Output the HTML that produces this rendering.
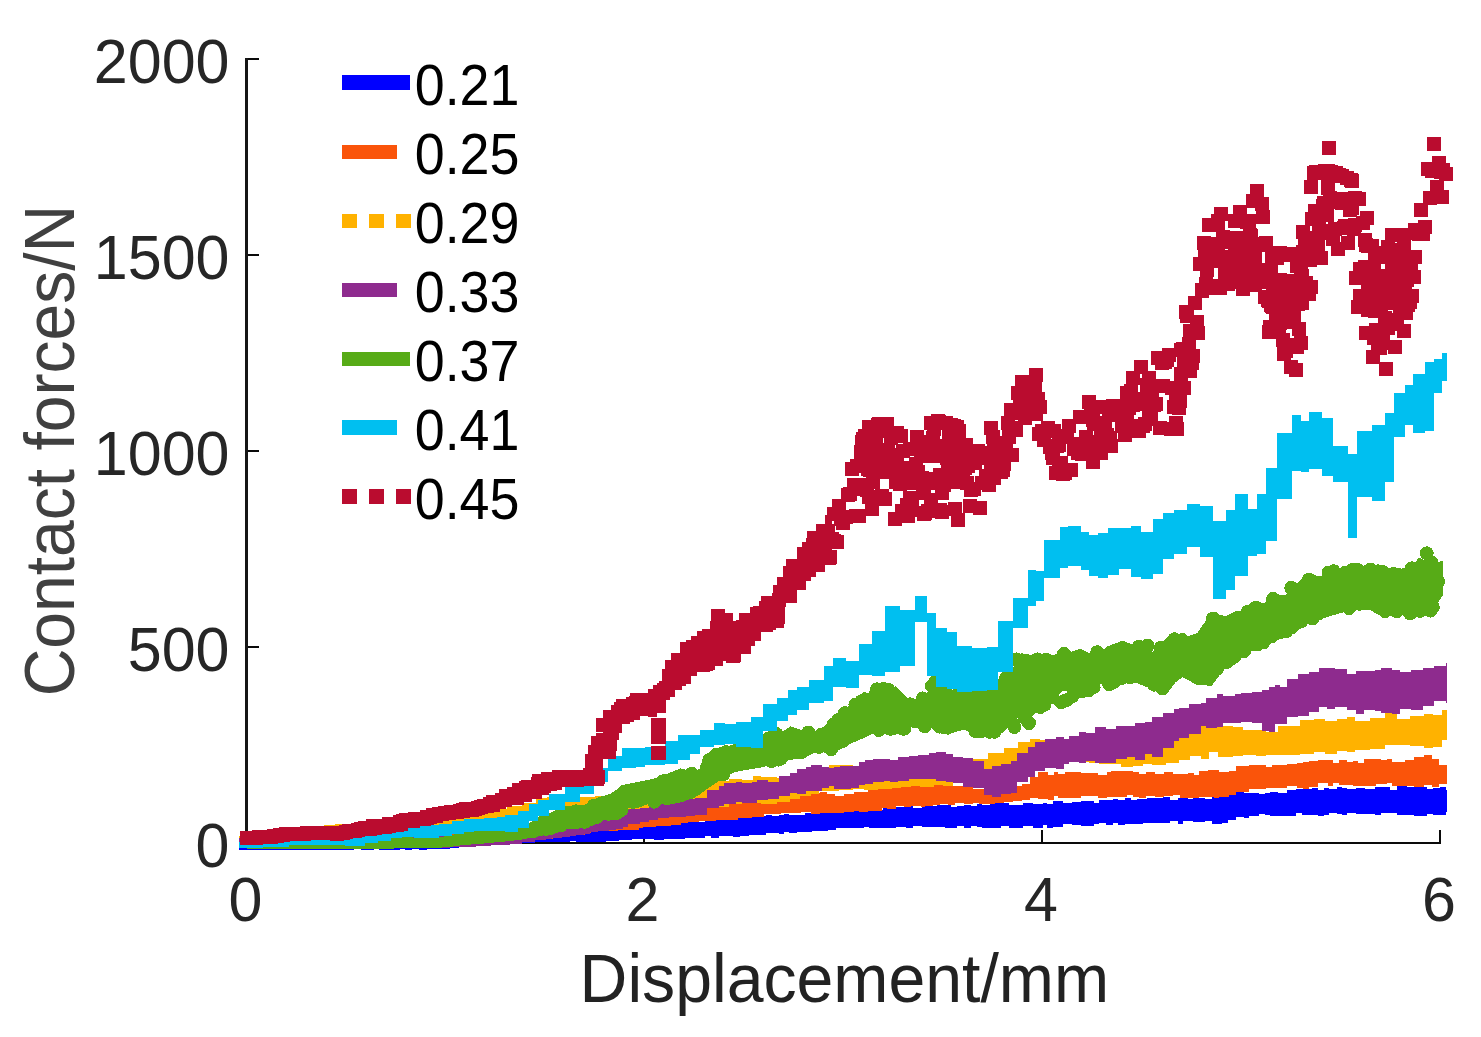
<!DOCTYPE html>
<html><head><meta charset="utf-8"><style>
html,body{margin:0;padding:0;background:#fff;width:1481px;height:1037px;overflow:hidden}
svg{display:block;font-family:"Liberation Sans",sans-serif}
</style></head><body>
<svg width="1481" height="1037" viewBox="0 0 1481 1037" shape-rendering="crispEdges">
<rect width="1481" height="1037" fill="#fff"/>
<rect x="245" y="58" width="3" height="786" fill="#161616"/>
<rect x="245" y="842" width="1196" height="2" fill="#0a0a0a"/>
<rect x="248" y="58" width="11" height="2" fill="#0a0a0a"/>
<rect x="248" y="254" width="11" height="2" fill="#0a0a0a"/>
<rect x="248" y="450" width="11" height="2" fill="#0a0a0a"/>
<rect x="248" y="646" width="11" height="2" fill="#0a0a0a"/>
<rect x="643" y="830" width="2" height="12" fill="#0a0a0a"/>
<rect x="1041" y="830" width="2" height="12" fill="#0a0a0a"/>
<rect x="1439" y="830" width="2" height="12" fill="#0a0a0a"/>
<polygon fill="#0000ff" points="239.0,838.3 243.8,838.3 243.8,838.1 249.3,838.1 249.3,838.1 257.2,838.1 257.2,838.1 261.4,838.1 261.4,837.6 270.0,837.6 270.0,837.5 278.3,837.5 278.3,837.3 287.7,837.3 287.7,837.6 295.0,837.6 295.0,837.1 300.3,837.1 300.3,837.0 305.6,837.0 305.6,836.8 311.0,836.8 311.0,836.7 317.8,836.7 317.8,836.7 326.8,836.7 326.8,837.1 331.9,837.1 331.9,836.4 336.6,836.4 336.6,836.8 344.9,836.8 344.9,836.4 353.9,836.4 353.9,836.5 361.4,836.5 361.4,836.1 368.4,836.1 368.4,836.3 373.9,836.3 373.9,836.0 378.9,836.0 378.9,835.8 387.0,835.8 387.0,836.1 394.0,836.1 394.0,835.7 400.4,835.7 400.4,835.8 404.6,835.8 404.6,835.5 412.2,835.5 412.2,836.1 419.2,836.1 419.2,835.8 426.5,835.8 426.5,835.9 433.5,835.9 433.5,835.1 440.3,835.1 440.3,834.9 450.0,834.9 450.0,835.2 459.0,835.2 459.0,834.6 467.8,834.6 467.8,834.2 474.4,834.2 474.4,834.1 481.8,834.1 481.8,834.0 488.7,834.0 488.7,834.1 495.9,834.1 495.9,834.0 502.7,834.0 502.7,833.7 507.7,833.7 507.7,833.3 516.5,833.3 516.5,832.9 522.1,832.9 522.1,832.6 526.6,832.6 526.6,832.2 535.1,832.2 535.1,831.6 542.8,831.6 542.8,830.9 547.8,830.9 547.8,830.4 553.4,830.4 553.4,829.6 559.4,829.6 559.4,828.9 565.7,828.9 565.7,828.7 570.3,828.7 570.3,828.0 575.6,828.0 575.6,827.3 579.7,827.3 579.7,826.9 588.0,826.9 588.0,826.6 596.1,826.6 596.1,826.6 606.0,826.6 606.0,826.1 611.3,826.1 611.3,825.5 618.8,825.5 618.8,825.3 623.1,825.3 623.1,825.1 632.4,825.1 632.4,825.4 638.2,825.4 638.2,823.9 644.7,823.9 644.7,823.2 654.0,823.2 654.0,822.9 663.8,822.9 663.8,823.4 673.0,823.4 673.0,821.9 680.0,821.9 680.0,822.2 685.3,822.2 685.3,821.4 690.4,821.4 690.4,821.5 696.2,821.5 696.2,822.0 705.4,822.0 705.4,820.1 710.6,820.1 710.6,819.1 719.3,819.1 719.3,819.1 727.4,819.1 727.4,818.4 733.4,818.4 733.4,818.1 740.3,818.1 740.3,815.7 748.7,815.7 748.7,815.4 758.2,815.4 758.2,816.4 765.8,816.4 765.8,814.8 771.8,814.8 771.8,816.2 779.4,816.2 779.4,814.7 784.2,814.7 784.2,814.0 788.5,814.0 788.5,815.0 797.2,815.0 797.2,814.5 804.9,814.5 804.9,813.1 812.3,813.1 812.3,814.1 817.9,814.1 817.9,812.8 827.5,812.8 827.5,813.2 836.2,813.2 836.2,812.0 844.2,812.0 844.2,811.2 853.5,811.2 853.5,810.6 863.5,810.6 863.5,809.8 868.5,809.8 868.5,810.7 873.1,810.7 873.1,810.2 882.9,810.2 882.9,808.4 888.4,808.4 888.4,807.3 896.3,807.3 896.3,806.7 906.2,806.7 906.2,806.2 912.9,806.2 912.9,808.0 922.4,808.0 922.4,805.6 927.1,805.6 927.1,806.0 937.0,806.0 937.0,805.2 944.9,805.2 944.9,805.0 950.8,805.0 950.8,807.2 956.5,807.2 956.5,805.6 964.4,805.6 964.4,804.5 970.7,804.5 970.7,806.0 976.6,806.0 976.6,804.2 982.4,804.2 982.4,804.7 989.9,804.7 989.9,803.7 994.0,803.7 994.0,803.3 1001.3,803.3 1001.3,803.3 1009.1,803.3 1009.1,805.1 1016.1,805.1 1016.1,804.6 1023.1,804.6 1023.1,802.5 1032.8,802.5 1032.8,804.2 1042.7,804.2 1042.7,802.6 1047.4,802.6 1047.4,804.1 1053.1,804.1 1053.1,801.2 1062.6,801.2 1062.6,802.9 1072.0,802.9 1072.0,802.2 1081.0,802.2 1081.0,800.7 1086.1,800.7 1086.1,801.3 1094.4,801.3 1094.4,802.5 1098.8,802.5 1098.8,800.3 1106.1,800.3 1106.1,799.5 1112.8,799.5 1112.8,798.8 1118.4,798.8 1118.4,799.5 1124.9,799.5 1124.9,798.3 1131.0,798.3 1131.0,800.2 1136.5,800.2 1136.5,799.1 1142.9,799.1 1142.9,798.6 1147.0,798.6 1147.0,798.2 1154.9,798.2 1154.9,797.6 1163.3,797.6 1163.3,797.4 1170.1,797.4 1170.1,799.9 1177.5,799.9 1177.5,798.4 1183.2,798.4 1183.2,797.8 1187.6,797.8 1187.6,798.8 1192.5,798.8 1192.5,798.3 1198.4,798.3 1198.4,798.2 1204.6,798.2 1204.6,798.9 1212.2,798.9 1212.2,797.3 1222.0,797.3 1222.0,796.2 1227.5,796.2 1227.5,794.2 1236.0,794.2 1236.0,792.4 1244.3,792.4 1244.3,793.4 1249.3,793.4 1249.3,793.4 1259.2,793.4 1259.2,793.6 1264.8,793.6 1264.8,792.6 1269.6,792.6 1269.6,791.9 1277.6,791.9 1277.6,793.0 1287.1,793.0 1287.1,790.0 1296.0,790.0 1296.0,789.0 1301.9,789.0 1301.9,788.6 1311.7,788.6 1311.7,788.2 1318.1,788.2 1318.1,789.9 1323.6,789.9 1323.6,788.3 1328.8,788.3 1328.8,788.6 1336.5,788.6 1336.5,787.3 1341.8,787.3 1341.8,788.2 1347.4,788.2 1347.4,789.2 1355.5,789.2 1355.5,787.9 1365.3,787.9 1365.3,788.9 1374.5,788.9 1374.5,786.9 1380.8,786.9 1380.8,786.6 1389.6,786.6 1389.6,790.0 1396.9,790.0 1396.9,786.4 1406.7,786.4 1406.7,786.7 1414.2,786.7 1414.2,787.3 1420.3,787.3 1420.3,787.0 1427.0,787.0 1427.0,788.5 1433.4,788.5 1433.4,787.7 1440.3,787.7 1440.3,786.8 1445.5,786.8 1445.5,790.3 1447.0,790.3 1447.0,812.0 1445.5,812.0 1445.5,814.9 1440.3,814.9 1440.3,815.4 1433.4,815.4 1433.4,814.1 1427.0,814.1 1427.0,815.5 1420.3,815.5 1420.3,815.8 1414.2,815.8 1414.2,814.7 1406.7,814.7 1406.7,814.7 1396.9,814.7 1396.9,813.3 1389.6,813.3 1389.6,813.3 1380.8,813.3 1380.8,815.3 1374.5,815.3 1374.5,814.1 1365.3,814.1 1365.3,814.3 1355.5,814.3 1355.5,812.7 1347.4,812.7 1347.4,814.8 1341.8,814.8 1341.8,814.0 1336.5,814.0 1336.5,812.7 1328.8,812.7 1328.8,815.4 1323.6,815.4 1323.6,815.5 1318.1,815.5 1318.1,815.4 1311.7,815.4 1311.7,814.7 1301.9,814.7 1301.9,813.4 1296.0,813.4 1296.0,816.3 1287.1,816.3 1287.1,816.2 1277.6,816.2 1277.6,816.3 1269.6,816.3 1269.6,814.8 1264.8,814.8 1264.8,814.3 1259.2,814.3 1259.2,816.3 1249.3,816.3 1249.3,817.8 1244.3,817.8 1244.3,817.1 1236.0,817.1 1236.0,819.7 1227.5,819.7 1227.5,822.8 1222.0,822.8 1222.0,823.9 1212.2,823.9 1212.2,821.2 1204.6,821.2 1204.6,822.1 1198.4,822.1 1198.4,821.5 1192.5,821.5 1192.5,821.3 1187.6,821.3 1187.6,821.4 1183.2,821.4 1183.2,824.0 1177.5,824.0 1177.5,821.2 1170.1,821.2 1170.1,823.4 1163.3,823.4 1163.3,823.2 1154.9,823.2 1154.9,822.5 1147.0,822.5 1147.0,823.2 1142.9,823.2 1142.9,823.8 1136.5,823.8 1136.5,823.5 1131.0,823.5 1131.0,824.2 1124.9,824.2 1124.9,824.5 1118.4,824.5 1118.4,823.4 1112.8,823.4 1112.8,824.6 1106.1,824.6 1106.1,823.0 1098.8,823.0 1098.8,823.5 1094.4,823.5 1094.4,825.6 1086.1,825.6 1086.1,826.0 1081.0,826.0 1081.0,824.9 1072.0,824.9 1072.0,824.2 1062.6,824.2 1062.6,826.9 1053.1,826.9 1053.1,827.5 1047.4,827.5 1047.4,825.1 1042.7,825.1 1042.7,827.7 1032.8,827.7 1032.8,826.1 1023.1,826.1 1023.1,828.0 1016.1,828.0 1016.1,827.9 1009.1,827.9 1009.1,826.1 1001.3,826.1 1001.3,828.0 994.0,828.0 994.0,828.0 989.9,828.0 989.9,827.8 982.4,827.8 982.4,827.2 976.6,827.2 976.6,825.8 970.7,825.8 970.7,827.7 964.4,827.7 964.4,825.6 956.5,825.6 956.5,827.5 950.8,827.5 950.8,828.0 944.9,828.0 944.9,827.2 937.0,827.2 937.0,826.8 927.1,826.8 927.1,827.0 922.4,827.0 922.4,825.7 912.9,825.7 912.9,828.0 906.2,828.0 906.2,827.2 896.3,827.2 896.3,828.0 888.4,828.0 888.4,828.0 882.9,828.0 882.9,827.8 873.1,827.8 873.1,827.7 868.5,827.7 868.5,827.1 863.5,827.1 863.5,828.0 853.5,828.0 853.5,827.9 844.2,827.9 844.2,828.0 836.2,828.0 836.2,830.1 827.5,830.1 827.5,830.7 817.9,830.7 817.9,830.9 812.3,830.9 812.3,832.0 804.9,832.0 804.9,832.4 797.2,832.4 797.2,833.1 788.5,833.1 788.5,832.4 784.2,832.4 784.2,834.2 779.4,834.2 779.4,833.0 771.8,833.0 771.8,833.4 765.8,833.4 765.8,835.1 758.2,835.1 758.2,834.7 748.7,834.7 748.7,836.4 740.3,836.4 740.3,836.8 733.4,836.8 733.4,836.2 727.4,836.2 727.4,835.7 719.3,835.7 719.3,837.5 710.6,837.5 710.6,836.2 705.4,836.2 705.4,838.0 696.2,838.0 696.2,838.2 690.4,838.2 690.4,838.0 685.3,838.0 685.3,838.7 680.0,838.7 680.0,839.1 673.0,839.1 673.0,839.0 663.8,839.0 663.8,839.7 654.0,839.7 654.0,838.6 644.7,838.6 644.7,839.1 638.2,839.1 638.2,839.3 632.4,839.3 632.4,840.2 623.1,840.2 623.1,840.1 618.8,840.1 618.8,840.9 611.3,840.9 611.3,841.4 606.0,841.4 606.0,841.5 596.1,841.5 596.1,841.9 588.0,841.9 588.0,841.5 579.7,841.5 579.7,842.0 575.6,842.0 575.6,841.4 570.3,841.4 570.3,841.8 565.7,841.8 565.7,842.1 559.4,842.1 559.4,842.2 553.4,842.2 553.4,842.2 547.8,842.2 547.8,842.3 542.8,842.3 542.8,842.4 535.1,842.4 535.1,842.7 526.6,842.7 526.6,843.0 522.1,843.0 522.1,843.1 516.5,843.1 516.5,843.5 507.7,843.5 507.7,843.8 502.7,843.8 502.7,844.1 495.9,844.1 495.9,844.7 488.7,844.7 488.7,845.4 481.8,845.4 481.8,846.1 474.4,846.1 474.4,846.4 467.8,846.4 467.8,847.3 459.0,847.3 459.0,847.8 450.0,847.8 450.0,848.5 440.3,848.5 440.3,849.2 433.5,849.2 433.5,849.3 426.5,849.3 426.5,849.5 419.2,849.5 419.2,849.1 412.2,849.1 412.2,849.7 404.6,849.7 404.6,848.9 400.4,848.9 400.4,849.7 394.0,849.7 394.0,849.5 387.0,849.5 387.0,849.7 378.9,849.7 378.9,849.4 373.9,849.4 373.9,849.7 368.4,849.7 368.4,849.9 361.4,849.9 361.4,849.4 353.9,849.4 353.9,849.9 344.9,849.9 344.9,849.9 336.6,849.9 336.6,849.6 331.9,849.6 331.9,849.5 326.8,849.5 326.8,849.7 317.8,849.7 317.8,850.0 311.0,850.0 311.0,850.0 305.6,850.0 305.6,849.8 300.3,849.8 300.3,850.0 295.0,850.0 295.0,849.9 287.7,849.9 287.7,850.0 278.3,850.0 278.3,849.5 270.0,849.5 270.0,849.9 261.4,849.9 261.4,849.9 257.2,849.9 257.2,850.0 249.3,850.0 249.3,849.9 243.8,849.9 243.8,849.8 239.0,849.8"/>
<polygon fill="#fa540a" points="239.0,836.2 248.7,836.2 248.7,836.1 253.2,836.1 253.2,835.9 261.3,835.9 261.3,835.8 268.9,835.8 268.9,835.6 275.5,835.6 275.5,835.8 285.5,835.8 285.5,835.4 292.1,835.4 292.1,835.3 296.3,835.3 296.3,835.5 302.6,835.5 302.6,835.1 309.9,835.1 309.9,835.0 315.9,835.0 315.9,835.0 325.9,835.0 325.9,835.0 335.2,835.0 335.2,834.8 344.7,834.8 344.7,834.9 350.8,834.9 350.8,834.6 355.8,834.6 355.8,834.4 362.5,834.4 362.5,834.3 372.1,834.3 372.1,834.5 378.2,834.5 378.2,834.1 385.0,834.1 385.0,833.9 393.3,833.9 393.3,834.0 399.3,834.0 399.3,833.6 408.7,833.6 408.7,834.1 414.6,834.1 414.6,833.5 421.6,833.5 421.6,833.3 429.1,833.3 429.1,833.8 436.2,833.8 436.2,833.5 440.6,833.5 440.6,832.7 450.1,832.7 450.1,832.6 454.4,832.6 454.4,832.5 459.8,832.5 459.8,832.1 466.9,832.1 466.9,831.8 472.2,831.8 472.2,830.9 480.5,830.9 480.5,830.8 485.5,830.8 485.5,830.1 495.3,830.1 495.3,829.7 499.4,829.7 499.4,829.4 504.3,829.4 504.3,829.1 510.6,829.1 510.6,828.7 515.6,828.7 515.6,828.7 523.2,828.7 523.2,828.0 529.3,828.0 529.3,827.8 537.9,827.8 537.9,827.4 546.4,827.4 546.4,826.6 553.2,826.6 553.2,826.2 559.1,826.2 559.1,825.5 568.4,825.5 568.4,824.6 574.7,824.6 574.7,823.6 584.5,823.6 584.5,822.5 591.0,822.5 591.0,821.8 595.9,821.8 595.9,821.2 600.8,821.2 600.8,820.9 607.9,820.9 607.9,820.6 617.8,820.6 617.8,820.4 623.3,820.4 623.3,820.2 632.2,820.2 632.2,820.0 638.7,820.0 638.7,819.5 642.9,819.5 642.9,818.8 651.2,818.8 651.2,817.9 656.3,817.9 656.3,817.2 663.5,817.2 663.5,816.3 671.3,816.3 671.3,814.0 681.1,814.0 681.1,811.3 688.2,811.3 688.2,809.7 694.7,809.7 694.7,809.2 699.2,809.2 699.2,808.6 706.3,808.6 706.3,807.9 712.1,807.9 712.1,806.7 716.2,806.7 716.2,806.4 722.0,806.4 722.0,805.0 726.1,805.0 726.1,804.0 733.0,804.0 733.0,803.2 737.5,803.2 737.5,802.0 747.1,802.0 747.1,801.4 752.2,801.4 752.2,800.9 759.0,800.9 759.0,798.9 763.8,798.9 763.8,798.6 772.9,798.6 772.9,796.3 781.0,796.3 781.0,796.2 789.7,796.2 789.7,794.9 795.8,794.9 795.8,794.6 801.4,794.6 801.4,795.0 811.2,795.0 811.2,792.7 820.2,792.7 820.2,792.0 827.1,792.0 827.1,793.9 835.2,793.9 835.2,795.8 844.1,795.8 844.1,794.0 854.1,794.0 854.1,792.4 858.5,792.4 858.5,792.0 868.4,792.0 868.4,789.1 874.2,789.1 874.2,788.1 882.3,788.1 882.3,787.4 887.0,787.4 887.0,785.4 895.5,785.4 895.5,784.3 903.8,784.3 903.8,784.8 910.5,784.8 910.5,785.0 920.5,785.0 920.5,783.3 925.4,783.3 925.4,785.2 933.0,785.2 933.0,783.1 940.0,783.1 940.0,785.0 948.3,785.0 948.3,785.6 955.1,785.6 955.1,785.6 963.6,785.6 963.6,786.6 972.7,786.6 972.7,788.7 979.1,788.7 979.1,788.6 986.9,788.6 986.9,790.1 995.2,790.1 995.2,789.8 1004.1,789.8 1004.1,788.8 1012.5,788.8 1012.5,786.1 1021.8,786.1 1021.8,783.8 1030.4,783.8 1030.4,777.1 1037.9,777.1 1037.9,771.9 1042.7,771.9 1042.7,771.9 1048.2,771.9 1048.2,775.1 1053.5,775.1 1053.5,772.1 1057.5,772.1 1057.5,773.9 1065.4,773.9 1065.4,772.4 1073.5,772.4 1073.5,772.4 1080.5,772.4 1080.5,773.0 1089.0,773.0 1089.0,773.2 1097.7,773.2 1097.7,775.0 1106.5,775.0 1106.5,772.1 1111.4,772.1 1111.4,771.2 1117.2,771.2 1117.2,771.3 1127.0,771.3 1127.0,771.1 1133.3,771.1 1133.3,772.1 1139.2,772.1 1139.2,774.3 1146.4,774.3 1146.4,771.6 1155.3,771.6 1155.3,773.5 1164.1,773.5 1164.1,772.4 1173.2,772.4 1173.2,773.9 1179.5,773.9 1179.5,774.0 1188.3,774.0 1188.3,772.6 1193.7,772.6 1193.7,775.0 1199.3,775.0 1199.3,770.9 1208.3,770.9 1208.3,769.5 1214.2,769.5 1214.2,769.8 1219.2,769.8 1219.2,772.3 1228.5,772.3 1228.5,770.9 1236.4,770.9 1236.4,766.4 1241.0,766.4 1241.0,766.1 1249.0,766.1 1249.0,765.0 1257.8,765.0 1257.8,764.7 1265.6,764.7 1265.6,767.0 1271.7,767.0 1271.7,765.1 1278.7,765.1 1278.7,765.0 1287.1,765.0 1287.1,764.4 1296.7,764.4 1296.7,763.1 1302.5,763.1 1302.5,761.7 1308.7,761.7 1308.7,761.1 1318.4,761.1 1318.4,760.1 1327.8,760.1 1327.8,759.5 1332.6,759.5 1332.6,762.7 1338.7,762.7 1338.7,759.8 1347.3,759.8 1347.3,762.0 1352.7,762.0 1352.7,760.7 1358.4,760.7 1358.4,762.6 1364.3,762.6 1364.3,759.2 1369.2,759.2 1369.2,759.3 1375.7,759.3 1375.7,759.2 1381.2,759.2 1381.2,759.6 1387.2,759.6 1387.2,759.1 1391.6,759.1 1391.6,761.6 1398.1,761.6 1398.1,762.0 1405.3,762.0 1405.3,759.7 1413.9,759.7 1413.9,757.0 1423.9,757.0 1423.9,755.0 1431.6,755.0 1431.6,758.7 1439.2,758.7 1439.2,764.8 1447.0,764.8 1447.0,783.9 1439.2,783.9 1439.2,786.5 1431.6,786.5 1431.6,784.5 1423.9,784.5 1423.9,786.5 1413.9,786.5 1413.9,785.9 1405.3,785.9 1405.3,785.5 1398.1,785.5 1398.1,785.9 1391.6,785.9 1391.6,782.9 1387.2,782.9 1387.2,783.5 1381.2,783.5 1381.2,784.4 1375.7,784.4 1375.7,785.5 1369.2,785.5 1369.2,785.7 1364.3,785.7 1364.3,786.0 1358.4,786.0 1358.4,785.9 1352.7,785.9 1352.7,785.4 1347.3,785.4 1347.3,784.7 1338.7,784.7 1338.7,782.9 1332.6,782.9 1332.6,786.2 1327.8,786.2 1327.8,783.3 1318.4,783.3 1318.4,787.2 1308.7,787.2 1308.7,788.9 1302.5,788.9 1302.5,787.5 1296.7,787.5 1296.7,785.8 1287.1,785.8 1287.1,787.6 1278.7,787.6 1278.7,787.5 1271.7,787.5 1271.7,788.0 1265.6,788.0 1265.6,789.0 1257.8,789.0 1257.8,789.2 1249.0,789.2 1249.0,791.5 1241.0,791.5 1241.0,792.4 1236.4,792.4 1236.4,794.5 1228.5,794.5 1228.5,797.0 1219.2,797.0 1219.2,797.6 1214.2,797.6 1214.2,797.0 1208.3,797.0 1208.3,797.4 1199.3,797.4 1199.3,797.9 1193.7,797.9 1193.7,797.8 1188.3,797.8 1188.3,797.6 1179.5,797.6 1179.5,795.3 1173.2,795.3 1173.2,796.4 1164.1,796.4 1164.1,797.4 1155.3,797.4 1155.3,796.2 1146.4,796.2 1146.4,798.0 1139.2,798.0 1139.2,797.0 1133.3,797.0 1133.3,794.6 1127.0,794.6 1127.0,796.7 1117.2,796.7 1117.2,796.7 1111.4,796.7 1111.4,797.1 1106.5,797.1 1106.5,797.9 1097.7,797.9 1097.7,796.2 1089.0,796.2 1089.0,795.9 1080.5,795.9 1080.5,798.4 1073.5,798.4 1073.5,798.4 1065.4,798.4 1065.4,798.0 1057.5,798.0 1057.5,796.1 1053.5,796.1 1053.5,799.5 1048.2,799.5 1048.2,798.7 1042.7,798.7 1042.7,799.0 1037.9,799.0 1037.9,798.3 1030.4,798.3 1030.4,800.3 1021.8,800.3 1021.8,801.3 1012.5,801.3 1012.5,802.3 1004.1,802.3 1004.1,803.1 995.2,803.1 995.2,803.5 986.9,803.5 986.9,803.7 979.1,803.7 979.1,802.6 972.7,802.6 972.7,803.5 963.6,803.5 963.6,803.1 955.1,803.1 955.1,804.5 948.3,804.5 948.3,803.6 940.0,803.6 940.0,805.3 933.0,805.3 933.0,806.3 925.4,806.3 925.4,806.8 920.5,806.8 920.5,806.2 910.5,806.2 910.5,807.4 903.8,807.4 903.8,806.1 895.5,806.1 895.5,809.3 887.0,809.3 887.0,807.9 882.3,807.9 882.3,811.0 874.2,811.0 874.2,810.7 868.4,810.7 868.4,812.4 858.5,812.4 858.5,810.5 854.1,810.5 854.1,812.4 844.1,812.4 844.1,812.8 835.2,812.8 835.2,812.9 827.1,812.9 827.1,813.4 820.2,813.4 820.2,813.8 811.2,813.8 811.2,811.7 801.4,811.7 801.4,813.4 795.8,813.4 795.8,812.5 789.7,812.5 789.7,813.4 781.0,813.4 781.0,814.0 772.9,814.0 772.9,814.1 763.8,814.1 763.8,816.9 759.0,816.9 759.0,817.3 752.2,817.3 752.2,818.0 747.1,818.0 747.1,818.2 737.5,818.2 737.5,819.8 733.0,819.8 733.0,819.7 726.1,819.7 726.1,820.3 722.0,820.3 722.0,820.1 716.2,820.1 716.2,820.9 712.1,820.9 712.1,821.0 706.3,821.0 706.3,821.1 699.2,821.1 699.2,821.5 694.7,821.5 694.7,821.8 688.2,821.8 688.2,822.7 681.1,822.7 681.1,824.6 671.3,824.6 671.3,826.1 663.5,826.1 663.5,826.4 656.3,826.4 656.3,826.6 651.2,826.6 651.2,826.9 642.9,826.9 642.9,828.4 638.7,828.4 638.7,830.0 632.2,830.0 632.2,830.2 623.3,830.2 623.3,830.4 617.8,830.4 617.8,830.6 607.9,830.6 607.9,830.9 600.8,830.9 600.8,831.3 595.9,831.3 595.9,832.1 591.0,832.1 591.0,833.1 584.5,833.1 584.5,834.5 574.7,834.5 574.7,836.0 568.4,836.0 568.4,837.2 559.1,837.2 559.1,838.2 553.2,838.2 553.2,838.5 546.4,838.5 546.4,838.9 537.9,838.9 537.9,839.3 529.3,839.3 529.3,840.1 523.2,840.1 523.2,840.7 515.6,840.7 515.6,841.1 510.6,841.1 510.6,840.9 504.3,840.9 504.3,841.6 499.4,841.6 499.4,841.8 495.3,841.8 495.3,842.3 485.5,842.3 485.5,843.1 480.5,843.1 480.5,843.5 472.2,843.5 472.2,843.9 466.9,843.9 466.9,844.4 459.8,844.4 459.8,844.9 454.4,844.9 454.4,845.1 450.1,845.1 450.1,845.2 440.6,845.2 440.6,845.6 436.2,845.6 436.2,845.8 429.1,845.8 429.1,846.0 421.6,846.0 421.6,845.8 414.6,845.8 414.6,845.8 408.7,845.8 408.7,845.6 399.3,845.6 399.3,846.2 393.3,846.2 393.3,846.2 385.0,846.2 385.0,845.8 378.2,845.8 378.2,845.9 372.1,845.9 372.1,846.0 362.5,846.0 362.5,846.3 355.8,846.3 355.8,846.2 350.8,846.2 350.8,846.0 344.7,846.0 344.7,846.2 335.2,846.2 335.2,846.3 325.9,846.3 325.9,846.6 315.9,846.6 315.9,846.5 309.9,846.5 309.9,846.7 302.6,846.7 302.6,846.6 296.3,846.6 296.3,846.7 292.1,846.7 292.1,846.8 285.5,846.8 285.5,846.7 275.5,846.7 275.5,846.7 268.9,846.7 268.9,846.9 261.3,846.9 261.3,846.8 253.2,846.8 253.2,846.8 248.7,846.8 248.7,847.0 239.0,847.0"/>
<polygon fill="#ffb200" points="239.0,836.1 248.9,836.1 248.9,834.9 261.7,834.9 261.7,833.7 269.8,833.7 269.8,832.8 279.7,832.8 279.7,830.7 294.4,830.7 294.4,829.3 303.6,829.3 303.6,828.1 315.8,828.1 315.8,826.8 324.3,826.8 324.3,825.0 334.7,825.0 334.7,824.4 346.5,824.4 346.5,824.0 360.2,824.0 360.2,822.4 374.6,822.4 374.6,821.4 389.7,821.4 389.7,821.5 399.4,821.5 399.4,820.1 412.4,820.1 412.4,819.4 423.5,819.4 423.5,819.1 436.2,819.1 436.2,817.9 451.6,817.9 451.6,815.6 465.0,815.6 465.0,813.9 480.7,813.9 480.7,811.7 494.4,811.7 494.4,808.8 507.0,808.8 507.0,806.3 521.8,806.3 521.8,802.6 536.2,802.6 536.2,797.9 546.6,797.9 546.6,796.7 554.9,796.7 554.9,797.1 568.7,797.1 568.7,797.1 584.5,797.1 584.5,796.8 595.0,796.8 595.0,796.3 603.2,796.3 603.2,795.8 616.1,795.8 616.1,795.4 631.1,795.4 631.1,793.5 646.2,793.5 646.2,792.5 658.4,792.5 658.4,790.3 670.9,790.3 670.9,786.6 682.9,786.6 682.9,783.5 692.8,783.5 692.8,781.9 705.0,781.9 705.0,781.1 716.3,781.1 716.3,780.7 729.3,780.7 729.3,778.9 742.3,778.9 742.3,779.8 753.1,779.8 753.1,776.2 761.3,776.2 761.3,776.8 777.0,776.8 777.0,777.6 789.7,777.6 789.7,778.3 800.2,778.3 800.2,776.5 810.6,776.5 810.6,773.8 818.8,773.8 818.8,769.2 829.3,769.2 829.3,765.3 839.2,765.3 839.2,764.5 852.8,764.5 852.8,769.9 863.5,769.9 863.5,770.1 878.3,770.1 878.3,772.8 891.5,772.8 891.5,771.5 901.3,771.5 901.3,773.1 910.9,773.1 910.9,771.7 920.3,771.7 920.3,772.2 933.5,772.2 933.5,770.7 942.5,770.7 942.5,770.3 952.7,770.3 952.7,766.6 964.0,766.6 964.0,761.6 973.3,761.6 973.3,758.8 988.3,758.8 988.3,752.7 1003.9,752.7 1003.9,747.8 1017.9,747.8 1017.9,742.1 1030.0,742.1 1030.0,739.4 1039.8,739.4 1039.8,739.9 1050.1,739.9 1050.1,740.6 1065.4,740.6 1065.4,743.6 1080.5,743.6 1080.5,744.5 1088.6,744.5 1088.6,745.5 1099.0,745.5 1099.0,748.0 1110.4,748.0 1110.4,746.4 1121.1,746.4 1121.1,748.9 1132.9,748.9 1132.9,748.7 1142.5,748.7 1142.5,747.6 1151.9,747.6 1151.9,744.1 1166.3,744.1 1166.3,740.1 1179.3,740.1 1179.3,732.7 1189.5,732.7 1189.5,729.9 1200.9,729.9 1200.9,726.0 1208.9,726.0 1208.9,726.0 1217.9,726.0 1217.9,726.1 1232.7,726.1 1232.7,727.4 1243.3,727.4 1243.3,729.8 1256.4,729.8 1256.4,729.5 1266.0,729.5 1266.0,732.4 1278.4,732.4 1278.4,726.4 1287.0,726.4 1287.0,726.4 1299.9,726.4 1299.9,720.4 1314.3,720.4 1314.3,719.1 1325.3,719.1 1325.3,721.2 1336.6,721.2 1336.6,719.0 1346.6,719.0 1346.6,717.0 1355.2,717.0 1355.2,721.2 1370.2,721.2 1370.2,718.1 1385.4,718.1 1385.4,713.1 1397.1,713.1 1397.1,719.4 1410.4,719.4 1410.4,716.4 1423.7,716.4 1423.7,714.1 1432.6,714.1 1432.6,715.4 1441.7,715.4 1441.7,710.3 1447.0,710.3 1447.0,740.2 1441.7,740.2 1441.7,746.9 1432.6,746.9 1432.6,747.8 1423.7,747.8 1423.7,746.2 1410.4,746.2 1410.4,744.9 1397.1,744.9 1397.1,744.6 1385.4,744.6 1385.4,749.4 1370.2,749.4 1370.2,750.4 1355.2,750.4 1355.2,752.1 1346.6,752.1 1346.6,751.2 1336.6,751.2 1336.6,754.2 1325.3,754.2 1325.3,751.7 1314.3,751.7 1314.3,754.4 1299.9,754.4 1299.9,755.0 1287.0,755.0 1287.0,755.2 1278.4,755.2 1278.4,755.3 1266.0,755.3 1266.0,755.9 1256.4,755.9 1256.4,755.3 1243.3,755.3 1243.3,755.7 1232.7,755.7 1232.7,757.2 1217.9,757.2 1217.9,752.4 1208.9,752.4 1208.9,758.9 1200.9,758.9 1200.9,756.0 1189.5,756.0 1189.5,759.7 1179.3,759.7 1179.3,762.7 1166.3,762.7 1166.3,764.7 1151.9,764.7 1151.9,763.9 1142.5,763.9 1142.5,765.8 1132.9,765.8 1132.9,766.7 1121.1,766.7 1121.1,764.0 1110.4,764.0 1110.4,764.2 1099.0,764.2 1099.0,763.1 1088.6,763.1 1088.6,762.3 1080.5,762.3 1080.5,759.5 1065.4,759.5 1065.4,755.7 1050.1,755.7 1050.1,756.5 1039.8,756.5 1039.8,757.9 1030.0,757.9 1030.0,761.5 1017.9,761.5 1017.9,764.4 1003.9,764.4 1003.9,770.0 988.3,770.0 988.3,774.7 973.3,774.7 973.3,777.4 964.0,777.4 964.0,781.3 952.7,781.3 952.7,785.8 942.5,785.8 942.5,785.4 933.5,785.4 933.5,786.9 920.3,786.9 920.3,786.4 910.9,786.4 910.9,786.8 901.3,786.8 901.3,788.0 891.5,788.0 891.5,788.7 878.3,788.7 878.3,789.6 863.5,789.6 863.5,789.3 852.8,789.3 852.8,789.5 839.2,789.5 839.2,790.5 829.3,790.5 829.3,791.1 818.8,791.1 818.8,794.1 810.6,794.1 810.6,796.4 800.2,796.4 800.2,799.4 789.7,799.4 789.7,801.9 777.0,801.9 777.0,803.5 761.3,803.5 761.3,803.4 753.1,803.4 753.1,803.2 742.3,803.2 742.3,804.2 729.3,804.2 729.3,807.2 716.3,807.2 716.3,807.6 705.0,807.6 705.0,808.1 692.8,808.1 692.8,804.6 682.9,804.6 682.9,808.0 670.9,808.0 670.9,808.2 658.4,808.2 658.4,811.4 646.2,811.4 646.2,813.1 631.1,813.1 631.1,812.1 616.1,812.1 616.1,812.3 603.2,812.3 603.2,810.3 595.0,810.3 595.0,808.6 584.5,808.6 584.5,808.2 568.7,808.2 568.7,809.2 554.9,809.2 554.9,808.8 546.6,808.8 546.6,808.8 536.2,808.8 536.2,812.9 521.8,812.9 521.8,817.6 507.0,817.6 507.0,819.8 494.4,819.8 494.4,821.7 480.7,821.7 480.7,824.2 465.0,824.2 465.0,826.6 451.6,826.6 451.6,828.8 436.2,828.8 436.2,830.5 423.5,830.5 423.5,831.5 412.4,831.5 412.4,832.4 399.4,832.4 399.4,833.4 389.7,833.4 389.7,834.5 374.6,834.5 374.6,834.7 360.2,834.7 360.2,836.6 346.5,836.6 346.5,836.8 334.7,836.8 334.7,837.9 324.3,837.9 324.3,839.3 315.8,839.3 315.8,840.3 303.6,840.3 303.6,841.1 294.4,841.1 294.4,842.7 279.7,842.7 279.7,844.0 269.8,844.0 269.8,845.0 261.7,845.0 261.7,846.1 248.9,846.1 248.9,847.0 239.0,847.0"/>
<polygon fill="#8e2b8e" points="239.0,838.0 245.7,838.0 245.7,838.0 251.7,838.0 251.7,837.9 263.2,837.9 263.2,837.8 269.7,837.8 269.7,837.7 275.9,837.7 275.9,837.7 287.4,837.7 287.4,837.5 298.0,837.5 298.0,837.5 307.4,837.5 307.4,837.3 318.6,837.3 318.6,837.2 328.3,837.2 328.3,837.1 336.6,837.1 336.6,837.1 347.6,837.1 347.6,837.0 359.0,837.0 359.0,836.8 369.9,836.8 369.9,836.7 379.1,836.7 379.1,836.8 386.3,836.8 386.3,836.6 391.6,836.6 391.6,836.5 400.3,836.5 400.3,836.4 412.3,836.4 412.3,836.4 418.7,836.4 418.7,836.4 426.2,836.4 426.2,836.4 435.1,836.4 435.1,836.0 440.6,836.0 440.6,836.0 449.9,836.0 449.9,836.1 456.1,836.1 456.1,836.2 466.0,836.2 466.0,836.1 476.1,836.1 476.1,836.0 483.2,836.0 483.2,836.0 491.0,836.0 491.0,836.0 501.8,836.0 501.8,835.8 509.9,835.8 509.9,834.8 521.6,834.8 521.6,833.9 526.9,833.9 526.9,833.3 534.5,833.3 534.5,832.3 546.3,832.3 546.3,830.6 551.7,830.6 551.7,828.9 561.5,828.9 561.5,826.8 569.9,826.8 569.9,825.3 575.8,825.3 575.8,824.1 583.6,824.1 583.6,822.6 590.3,822.6 590.3,821.1 598.3,821.1 598.3,818.7 609.1,818.7 609.1,816.1 615.9,816.1 615.9,815.0 622.5,815.0 622.5,812.2 627.9,812.2 627.9,808.6 639.8,808.6 639.8,807.7 649.4,807.7 649.4,805.8 657.8,805.8 657.8,804.2 669.0,804.2 669.0,801.5 676.3,801.5 676.3,800.4 685.8,800.4 685.8,798.9 695.4,798.9 695.4,797.7 706.8,797.7 706.8,790.0 718.6,790.0 718.6,786.0 724.0,786.0 724.0,783.4 735.7,783.4 735.7,781.8 741.9,781.8 741.9,782.6 752.1,782.6 752.1,782.3 757.2,782.3 757.2,780.4 768.3,780.4 768.3,782.2 778.8,782.2 778.8,775.7 789.9,775.7 789.9,772.6 797.2,772.6 797.2,768.7 805.5,768.7 805.5,766.9 810.8,766.9 810.8,765.4 821.8,765.4 821.8,766.8 829.4,766.8 829.4,767.5 834.4,767.5 834.4,767.3 840.0,767.3 840.0,765.7 850.5,765.7 850.5,765.6 859.0,765.6 859.0,761.8 864.8,761.8 864.8,759.6 873.3,759.6 873.3,758.6 883.8,758.6 883.8,758.5 890.2,758.5 890.2,759.8 898.1,759.8 898.1,756.7 909.2,756.7 909.2,755.5 917.7,755.5 917.7,755.2 929.0,755.2 929.0,753.4 936.2,753.4 936.2,752.0 946.2,752.0 946.2,753.6 952.9,753.6 952.9,757.2 963.3,757.2 963.3,757.6 973.0,757.6 973.0,761.1 984.4,761.1 984.4,768.7 991.6,768.7 991.6,766.3 1000.8,766.3 1000.8,764.1 1011.2,764.1 1011.2,760.7 1017.2,760.7 1017.2,753.1 1027.8,753.1 1027.8,746.5 1035.4,746.5 1035.4,742.0 1044.8,742.0 1044.8,739.4 1056.3,739.4 1056.3,737.2 1063.6,737.2 1063.6,739.1 1068.8,739.1 1068.8,735.7 1079.4,735.7 1079.4,731.8 1085.5,731.8 1085.5,733.0 1094.5,733.0 1094.5,727.2 1106.3,727.2 1106.3,729.1 1116.0,729.1 1116.0,725.5 1126.8,725.5 1126.8,726.1 1134.7,726.1 1134.7,722.5 1144.6,722.5 1144.6,721.7 1151.9,721.7 1151.9,717.4 1163.2,717.4 1163.2,712.5 1173.9,712.5 1173.9,709.2 1179.0,709.2 1179.0,707.7 1188.8,707.7 1188.8,703.6 1200.5,703.6 1200.5,702.8 1206.0,702.8 1206.0,697.7 1217.4,697.7 1217.4,693.8 1223.1,693.8 1223.1,696.1 1234.6,696.1 1234.6,693.9 1240.6,693.9 1240.6,692.8 1252.2,692.8 1252.2,692.0 1262.0,692.0 1262.0,690.4 1268.8,690.4 1268.8,687.3 1274.5,687.3 1274.5,684.5 1280.4,684.5 1280.4,686.6 1287.4,686.6 1287.4,679.0 1297.5,679.0 1297.5,673.7 1308.7,673.7 1308.7,671.8 1318.5,671.8 1318.5,668.2 1327.0,668.2 1327.0,668.0 1335.4,668.0 1335.4,668.7 1346.5,668.7 1346.5,673.9 1356.3,673.9 1356.3,671.2 1364.0,671.2 1364.0,670.9 1375.2,670.9 1375.2,669.7 1381.2,669.7 1381.2,668.1 1392.0,668.1 1392.0,669.6 1400.3,669.6 1400.3,671.6 1411.1,671.6 1411.1,670.2 1422.6,670.2 1422.6,668.3 1433.5,668.3 1433.5,665.8 1439.2,665.8 1439.2,665.8 1446.4,665.8 1446.4,663.0 1447.0,663.0 1447.0,702.5 1446.4,702.5 1446.4,700.5 1439.2,700.5 1439.2,701.4 1433.5,701.4 1433.5,706.1 1422.6,706.1 1422.6,709.5 1411.1,709.5 1411.1,708.8 1400.3,708.8 1400.3,713.7 1392.0,713.7 1392.0,712.8 1381.2,712.8 1381.2,710.8 1375.2,710.8 1375.2,710.0 1364.0,710.0 1364.0,713.7 1356.3,713.7 1356.3,710.4 1346.5,710.4 1346.5,707.0 1335.4,707.0 1335.4,708.9 1327.0,708.9 1327.0,706.9 1318.5,706.9 1318.5,712.4 1308.7,712.4 1308.7,716.0 1297.5,716.0 1297.5,716.7 1287.4,716.7 1287.4,724.1 1280.4,724.1 1280.4,723.7 1274.5,723.7 1274.5,731.9 1268.8,731.9 1268.8,730.5 1262.0,730.5 1262.0,723.1 1252.2,723.1 1252.2,722.2 1240.6,722.2 1240.6,723.1 1234.6,723.1 1234.6,722.5 1223.1,722.5 1223.1,726.8 1217.4,726.8 1217.4,728.4 1206.0,728.4 1206.0,726.4 1200.5,726.4 1200.5,733.8 1188.8,733.8 1188.8,737.5 1179.0,737.5 1179.0,740.8 1173.9,740.8 1173.9,747.7 1163.2,747.7 1163.2,756.7 1151.9,756.7 1151.9,753.7 1144.6,753.7 1144.6,760.1 1134.7,760.1 1134.7,757.1 1126.8,757.1 1126.8,758.5 1116.0,758.5 1116.0,763.3 1106.3,763.3 1106.3,762.9 1094.5,762.9 1094.5,761.4 1085.5,761.4 1085.5,763.4 1079.4,763.4 1079.4,761.8 1068.8,761.8 1068.8,764.4 1063.6,764.4 1063.6,768.5 1056.3,768.5 1056.3,768.4 1044.8,768.4 1044.8,771.3 1035.4,771.3 1035.4,776.8 1027.8,776.8 1027.8,782.2 1017.2,782.2 1017.2,793.4 1011.2,793.4 1011.2,793.9 1000.8,793.9 1000.8,797.4 991.6,797.4 991.6,794.6 984.4,794.6 984.4,787.9 973.0,787.9 973.0,786.8 963.3,786.8 963.3,782.9 952.9,782.9 952.9,781.8 946.2,781.8 946.2,781.2 936.2,781.2 936.2,779.4 929.0,779.4 929.0,779.3 917.7,779.3 917.7,779.0 909.2,779.0 909.2,780.9 898.1,780.9 898.1,781.9 890.2,781.9 890.2,781.2 883.8,781.2 883.8,782.3 873.3,782.3 873.3,784.0 864.8,784.0 864.8,784.9 859.0,784.9 859.0,788.3 850.5,788.3 850.5,789.3 840.0,789.3 840.0,788.5 834.4,788.5 834.4,785.7 829.4,785.7 829.4,787.8 821.8,787.8 821.8,790.5 810.8,790.5 810.8,791.4 805.5,791.4 805.5,793.5 797.2,793.5 797.2,793.3 789.9,793.3 789.9,796.0 778.8,796.0 778.8,798.8 768.3,798.8 768.3,800.1 757.2,800.1 757.2,803.0 752.1,803.0 752.1,802.9 741.9,802.9 741.9,802.2 735.7,802.2 735.7,804.3 724.0,804.3 724.0,806.1 718.6,806.1 718.6,808.0 706.8,808.0 706.8,814.5 695.4,814.5 695.4,816.1 685.8,816.1 685.8,816.9 676.3,816.9 676.3,817.3 669.0,817.3 669.0,818.1 657.8,818.1 657.8,819.9 649.4,819.9 649.4,821.5 639.8,821.5 639.8,823.8 627.9,823.8 627.9,826.9 622.5,826.9 622.5,829.1 615.9,829.1 615.9,829.9 609.1,829.9 609.1,831.0 598.3,831.0 598.3,832.0 590.3,832.0 590.3,833.5 583.6,833.5 583.6,834.9 575.8,834.9 575.8,836.1 569.9,836.1 569.9,837.3 561.5,837.3 561.5,838.4 551.7,838.4 551.7,839.3 546.3,839.3 546.3,840.3 534.5,840.3 534.5,841.6 526.9,841.6 526.9,842.4 521.6,842.4 521.6,843.5 509.9,843.5 509.9,844.8 501.8,844.8 501.8,845.4 491.0,845.4 491.0,845.8 483.2,845.8 483.2,846.1 476.1,846.1 476.1,846.5 466.0,846.5 466.0,846.8 456.1,846.8 456.1,847.4 449.9,847.4 449.9,847.7 440.6,847.7 440.6,847.8 435.1,847.8 435.1,848.0 426.2,848.0 426.2,848.0 418.7,848.0 418.7,848.0 412.3,848.0 412.3,847.9 400.3,847.9 400.3,848.0 391.6,848.0 391.6,848.0 386.3,848.0 386.3,848.0 379.1,848.0 379.1,848.0 369.9,848.0 369.9,848.0 359.0,848.0 359.0,847.8 347.6,847.8 347.6,848.0 336.6,848.0 336.6,847.8 328.3,847.8 328.3,848.0 318.6,848.0 318.6,847.9 307.4,847.9 307.4,847.9 298.0,847.9 298.0,848.0 287.4,848.0 287.4,848.0 275.9,848.0 275.9,848.0 269.7,848.0 269.7,848.0 263.2,848.0 263.2,848.0 251.7,848.0 251.7,848.0 245.7,848.0 245.7,848.0 239.0,848.0"/>
<polygon fill="#57ab17" points="246.5,840.0 262.8,839.6 276.6,839.3 289.4,839.0 303.8,838.8 318.0,838.6 331.4,838.6 343.2,838.4 356.3,838.1 372.2,837.7 389.6,837.6 407.4,837.3 422.1,837.8 436.8,838.0 452.1,834.9 463.8,831.9 474.1,831.4 485.3,831.1 497.8,830.0 509.3,829.5 522.5,827.9 538.7,816.8 551.9,812.0 565.7,805.9 583.3,805.3 598.4,797.3 610.3,794.0 624.1,784.6 637.9,781.9 652.0,779.1 667.8,773.6 680.7,768.3 694.2,772.0 707.1,764.0 718.9,747.1 733.9,744.9 747.4,747.1 759.6,743.2 774.5,737.0 790.6,726.3 804.3,731.0 816.7,731.7 832.5,720.2 849.3,705.3 863.8,691.9 879.4,695.9 895.3,686.1 908.4,699.0 921.0,699.6 935.2,682.4 949.4,688.4 962.8,694.6 975.9,701.7 989.4,686.2 1002.7,679.4 1017.0,662.9 1031.7,664.2 1046.4,655.0 1063.2,654.0 1080.5,648.9 1095.0,656.3 1107.5,646.4 1122.4,640.7 1137.6,646.4 1152.4,651.8 1167.8,636.4 1182.5,638.2 1197.0,633.3 1211.6,612.6 1224.0,616.8 1235.3,611.3 1247.6,610.5 1260.1,610.7 1272.7,593.3 1284.7,595.5 1295.4,584.4 1307.7,573.4 1323.7,577.3 1340.8,569.1 1354.6,568.2 1369.0,576.8 1384.2,577.3 1396.1,572.3 1407.1,572.3 1419.1,557.5 1431.8,564.2 1442.5,560.7 1442.5,595.8 1431.8,612.5 1419.1,618.7 1407.1,608.9 1396.1,614.7 1384.2,617.8 1369.0,609.6 1354.6,610.3 1340.8,613.0 1323.7,618.1 1307.7,621.9 1295.4,633.3 1284.7,636.8 1272.7,642.6 1260.1,650.9 1247.6,651.5 1235.3,664.5 1224.0,669.2 1211.6,686.1 1197.0,684.3 1182.5,677.3 1167.8,688.0 1152.4,689.3 1137.6,683.5 1122.4,677.5 1107.5,684.4 1095.0,684.3 1080.5,694.1 1063.2,690.7 1046.4,700.6 1031.7,717.0 1017.0,717.5 1002.7,732.6 989.4,734.3 975.9,732.4 962.8,729.9 949.4,733.8 935.2,723.4 921.0,729.0 908.4,727.0 895.3,735.2 879.4,730.6 863.8,738.1 849.3,744.1 832.5,753.7 816.7,751.5 804.3,758.2 790.6,759.8 774.5,763.7 759.6,767.9 747.4,769.7 733.9,772.3 718.9,781.1 707.1,789.0 694.2,798.0 680.7,802.3 667.8,805.0 652.0,802.8 637.9,807.8 624.1,808.5 610.3,817.6 598.4,821.7 583.3,828.2 565.7,829.4 551.9,834.9 538.7,835.8 522.5,839.4 509.3,841.2 497.8,842.1 485.3,843.4 474.1,844.3 463.8,844.9 452.1,846.6 436.8,848.0 422.1,848.1 407.4,848.2 389.6,848.6 372.2,848.8 356.3,849.0 343.2,849.0 331.4,848.9 318.0,849.0 303.8,849.0 289.4,849.0 276.6,849.1 262.8,849.2 246.5,849.3"/>
<path fill="#57ab17" d="M524.0 831.0a7 7 0 1 0 14 0a7 7 0 1 0 -14 0zM527.0 830.8a7 7 0 1 0 14 0a7 7 0 1 0 -14 0zM530.0 825.8a7 7 0 1 0 14 0a7 7 0 1 0 -14 0zM533.0 823.8a7 7 0 1 0 14 0a7 7 0 1 0 -14 0zM536.0 826.7a7 7 0 1 0 14 0a7 7 0 1 0 -14 0zM539.0 828.9a7 7 0 1 0 14 0a7 7 0 1 0 -14 0zM542.0 825.6a7 7 0 1 0 14 0a7 7 0 1 0 -14 0zM545.0 819.5a7 7 0 1 0 14 0a7 7 0 1 0 -14 0zM548.0 819.7a7 7 0 1 0 14 0a7 7 0 1 0 -14 0zM551.0 821.6a7 7 0 1 0 14 0a7 7 0 1 0 -14 0zM554.0 825.3a7 7 0 1 0 14 0a7 7 0 1 0 -14 0zM557.0 819.9a7 7 0 1 0 14 0a7 7 0 1 0 -14 0zM560.0 817.1a7 7 0 1 0 14 0a7 7 0 1 0 -14 0zM563.0 816.7a7 7 0 1 0 14 0a7 7 0 1 0 -14 0zM566.0 817.9a7 7 0 1 0 14 0a7 7 0 1 0 -14 0zM569.0 811.3a7 7 0 1 0 14 0a7 7 0 1 0 -14 0zM572.0 815.0a7 7 0 1 0 14 0a7 7 0 1 0 -14 0zM575.0 816.2a7 7 0 1 0 14 0a7 7 0 1 0 -14 0zM577.9 821.8a7 7 0 1 0 14 0a7 7 0 1 0 -14 0zM580.9 813.1a7 7 0 1 0 14 0a7 7 0 1 0 -14 0zM583.9 819.0a7 7 0 1 0 14 0a7 7 0 1 0 -14 0zM586.8 805.9a7 7 0 1 0 14 0a7 7 0 1 0 -14 0zM589.8 817.0a7 7 0 1 0 14 0a7 7 0 1 0 -14 0zM592.7 811.4a7 7 0 1 0 14 0a7 7 0 1 0 -14 0zM595.6 805.5a7 7 0 1 0 14 0a7 7 0 1 0 -14 0zM598.4 808.0a7 7 0 1 0 14 0a7 7 0 1 0 -14 0zM601.2 813.8a7 7 0 1 0 14 0a7 7 0 1 0 -14 0zM603.9 803.6a7 7 0 1 0 14 0a7 7 0 1 0 -14 0zM606.5 813.0a7 7 0 1 0 14 0a7 7 0 1 0 -14 0zM609.2 813.2a7 7 0 1 0 14 0a7 7 0 1 0 -14 0zM611.9 811.6a7 7 0 1 0 14 0a7 7 0 1 0 -14 0zM614.6 809.7a7 7 0 1 0 14 0a7 7 0 1 0 -14 0zM617.5 791.7a7 7 0 1 0 14 0a7 7 0 1 0 -14 0zM620.4 800.0a7 7 0 1 0 14 0a7 7 0 1 0 -14 0zM623.4 793.2a7 7 0 1 0 14 0a7 7 0 1 0 -14 0zM626.4 801.9a7 7 0 1 0 14 0a7 7 0 1 0 -14 0zM629.4 796.5a7 7 0 1 0 14 0a7 7 0 1 0 -14 0zM632.4 797.0a7 7 0 1 0 14 0a7 7 0 1 0 -14 0zM635.4 798.1a7 7 0 1 0 14 0a7 7 0 1 0 -14 0zM638.4 791.1a7 7 0 1 0 14 0a7 7 0 1 0 -14 0zM641.4 795.0a7 7 0 1 0 14 0a7 7 0 1 0 -14 0zM644.3 789.2a7 7 0 1 0 14 0a7 7 0 1 0 -14 0zM647.2 801.7a7 7 0 1 0 14 0a7 7 0 1 0 -14 0zM650.1 789.4a7 7 0 1 0 14 0a7 7 0 1 0 -14 0zM652.9 791.9a7 7 0 1 0 14 0a7 7 0 1 0 -14 0zM655.7 781.6a7 7 0 1 0 14 0a7 7 0 1 0 -14 0zM658.5 780.7a7 7 0 1 0 14 0a7 7 0 1 0 -14 0zM661.2 783.2a7 7 0 1 0 14 0a7 7 0 1 0 -14 0zM663.9 794.8a7 7 0 1 0 14 0a7 7 0 1 0 -14 0zM666.6 793.9a7 7 0 1 0 14 0a7 7 0 1 0 -14 0zM669.2 789.4a7 7 0 1 0 14 0a7 7 0 1 0 -14 0zM671.8 781.3a7 7 0 1 0 14 0a7 7 0 1 0 -14 0zM674.4 795.3a7 7 0 1 0 14 0a7 7 0 1 0 -14 0zM677.1 776.3a7 7 0 1 0 14 0a7 7 0 1 0 -14 0zM679.6 776.8a7 7 0 1 0 14 0a7 7 0 1 0 -14 0zM682.2 786.7a7 7 0 1 0 14 0a7 7 0 1 0 -14 0zM684.8 773.8a7 7 0 1 0 14 0a7 7 0 1 0 -14 0zM687.4 783.2a7 7 0 1 0 14 0a7 7 0 1 0 -14 0zM689.9 788.1a7 7 0 1 0 14 0a7 7 0 1 0 -14 0zM692.5 778.2a7 7 0 1 0 14 0a7 7 0 1 0 -14 0zM695.0 780.6a7 7 0 1 0 14 0a7 7 0 1 0 -14 0zM697.5 775.7a7 7 0 1 0 14 0a7 7 0 1 0 -14 0zM699.9 767.7a7 7 0 1 0 14 0a7 7 0 1 0 -14 0zM702.3 760.0a7 7 0 1 0 14 0a7 7 0 1 0 -14 0zM704.7 759.0a7 7 0 1 0 14 0a7 7 0 1 0 -14 0zM707.1 768.8a7 7 0 1 0 14 0a7 7 0 1 0 -14 0zM709.4 754.5a7 7 0 1 0 14 0a7 7 0 1 0 -14 0zM711.7 760.7a7 7 0 1 0 14 0a7 7 0 1 0 -14 0zM714.0 766.8a7 7 0 1 0 14 0a7 7 0 1 0 -14 0zM716.4 774.2a7 7 0 1 0 14 0a7 7 0 1 0 -14 0zM719.0 752.1a7 7 0 1 0 14 0a7 7 0 1 0 -14 0zM721.5 757.4a7 7 0 1 0 14 0a7 7 0 1 0 -14 0zM724.3 761.6a7 7 0 1 0 14 0a7 7 0 1 0 -14 0zM727.1 762.0a7 7 0 1 0 14 0a7 7 0 1 0 -14 0zM730.1 749.9a7 7 0 1 0 14 0a7 7 0 1 0 -14 0zM733.1 764.2a7 7 0 1 0 14 0a7 7 0 1 0 -14 0zM736.1 752.0a7 7 0 1 0 14 0a7 7 0 1 0 -14 0zM739.1 762.2a7 7 0 1 0 14 0a7 7 0 1 0 -14 0zM742.1 754.7a7 7 0 1 0 14 0a7 7 0 1 0 -14 0zM745.1 757.4a7 7 0 1 0 14 0a7 7 0 1 0 -14 0zM748.1 761.2a7 7 0 1 0 14 0a7 7 0 1 0 -14 0zM751.1 758.0a7 7 0 1 0 14 0a7 7 0 1 0 -14 0zM754.1 753.7a7 7 0 1 0 14 0a7 7 0 1 0 -14 0zM757.0 744.4a7 7 0 1 0 14 0a7 7 0 1 0 -14 0zM759.7 745.5a7 7 0 1 0 14 0a7 7 0 1 0 -14 0zM762.2 738.3a7 7 0 1 0 14 0a7 7 0 1 0 -14 0zM764.6 761.0a7 7 0 1 0 14 0a7 7 0 1 0 -14 0zM767.0 734.8a7 7 0 1 0 14 0a7 7 0 1 0 -14 0zM769.2 733.9a7 7 0 1 0 14 0a7 7 0 1 0 -14 0zM771.4 759.6a7 7 0 1 0 14 0a7 7 0 1 0 -14 0zM773.6 758.6a7 7 0 1 0 14 0a7 7 0 1 0 -14 0zM775.9 742.5a7 7 0 1 0 14 0a7 7 0 1 0 -14 0zM778.2 753.1a7 7 0 1 0 14 0a7 7 0 1 0 -14 0zM780.6 737.6a7 7 0 1 0 14 0a7 7 0 1 0 -14 0zM783.1 739.3a7 7 0 1 0 14 0a7 7 0 1 0 -14 0zM785.6 747.7a7 7 0 1 0 14 0a7 7 0 1 0 -14 0zM788.2 746.3a7 7 0 1 0 14 0a7 7 0 1 0 -14 0zM790.8 739.3a7 7 0 1 0 14 0a7 7 0 1 0 -14 0zM793.4 752.4a7 7 0 1 0 14 0a7 7 0 1 0 -14 0zM796.0 748.2a7 7 0 1 0 14 0a7 7 0 1 0 -14 0zM798.7 743.2a7 7 0 1 0 14 0a7 7 0 1 0 -14 0zM801.3 732.5a7 7 0 1 0 14 0a7 7 0 1 0 -14 0zM803.9 742.7a7 7 0 1 0 14 0a7 7 0 1 0 -14 0zM806.5 738.8a7 7 0 1 0 14 0a7 7 0 1 0 -14 0zM809.1 740.2a7 7 0 1 0 14 0a7 7 0 1 0 -14 0zM811.7 746.9a7 7 0 1 0 14 0a7 7 0 1 0 -14 0zM814.3 734.9a7 7 0 1 0 14 0a7 7 0 1 0 -14 0zM816.8 741.6a7 7 0 1 0 14 0a7 7 0 1 0 -14 0zM819.2 745.9a7 7 0 1 0 14 0a7 7 0 1 0 -14 0zM821.7 741.5a7 7 0 1 0 14 0a7 7 0 1 0 -14 0zM824.1 749.2a7 7 0 1 0 14 0a7 7 0 1 0 -14 0zM826.5 724.5a7 7 0 1 0 14 0a7 7 0 1 0 -14 0zM828.8 733.7a7 7 0 1 0 14 0a7 7 0 1 0 -14 0zM831.1 720.2a7 7 0 1 0 14 0a7 7 0 1 0 -14 0zM833.4 728.9a7 7 0 1 0 14 0a7 7 0 1 0 -14 0zM835.7 740.9a7 7 0 1 0 14 0a7 7 0 1 0 -14 0zM837.9 713.1a7 7 0 1 0 14 0a7 7 0 1 0 -14 0zM840.1 722.3a7 7 0 1 0 14 0a7 7 0 1 0 -14 0zM842.2 731.6a7 7 0 1 0 14 0a7 7 0 1 0 -14 0zM844.3 724.1a7 7 0 1 0 14 0a7 7 0 1 0 -14 0zM846.4 732.6a7 7 0 1 0 14 0a7 7 0 1 0 -14 0zM848.4 704.8a7 7 0 1 0 14 0a7 7 0 1 0 -14 0zM850.4 731.5a7 7 0 1 0 14 0a7 7 0 1 0 -14 0zM852.4 706.0a7 7 0 1 0 14 0a7 7 0 1 0 -14 0zM854.3 701.3a7 7 0 1 0 14 0a7 7 0 1 0 -14 0zM856.2 724.2a7 7 0 1 0 14 0a7 7 0 1 0 -14 0zM858.1 722.3a7 7 0 1 0 14 0a7 7 0 1 0 -14 0zM859.9 704.4a7 7 0 1 0 14 0a7 7 0 1 0 -14 0zM861.7 702.1a7 7 0 1 0 14 0a7 7 0 1 0 -14 0zM863.4 710.3a7 7 0 1 0 14 0a7 7 0 1 0 -14 0zM865.1 712.3a7 7 0 1 0 14 0a7 7 0 1 0 -14 0zM866.8 709.1a7 7 0 1 0 14 0a7 7 0 1 0 -14 0zM868.5 694.8a7 7 0 1 0 14 0a7 7 0 1 0 -14 0zM870.1 689.3a7 7 0 1 0 14 0a7 7 0 1 0 -14 0zM871.8 730.0a7 7 0 1 0 14 0a7 7 0 1 0 -14 0zM873.4 712.4a7 7 0 1 0 14 0a7 7 0 1 0 -14 0zM875.0 689.3a7 7 0 1 0 14 0a7 7 0 1 0 -14 0zM876.6 689.0a7 7 0 1 0 14 0a7 7 0 1 0 -14 0zM878.2 698.7a7 7 0 1 0 14 0a7 7 0 1 0 -14 0zM879.9 703.3a7 7 0 1 0 14 0a7 7 0 1 0 -14 0zM881.5 690.0a7 7 0 1 0 14 0a7 7 0 1 0 -14 0zM883.2 728.8a7 7 0 1 0 14 0a7 7 0 1 0 -14 0zM884.9 716.4a7 7 0 1 0 14 0a7 7 0 1 0 -14 0zM886.6 705.3a7 7 0 1 0 14 0a7 7 0 1 0 -14 0zM888.3 715.3a7 7 0 1 0 14 0a7 7 0 1 0 -14 0zM890.1 713.6a7 7 0 1 0 14 0a7 7 0 1 0 -14 0zM891.9 725.6a7 7 0 1 0 14 0a7 7 0 1 0 -14 0zM893.7 713.4a7 7 0 1 0 14 0a7 7 0 1 0 -14 0zM895.5 728.5a7 7 0 1 0 14 0a7 7 0 1 0 -14 0zM897.4 728.7a7 7 0 1 0 14 0a7 7 0 1 0 -14 0zM899.3 709.4a7 7 0 1 0 14 0a7 7 0 1 0 -14 0zM901.2 708.5a7 7 0 1 0 14 0a7 7 0 1 0 -14 0zM903.2 704.3a7 7 0 1 0 14 0a7 7 0 1 0 -14 0zM905.3 712.8a7 7 0 1 0 14 0a7 7 0 1 0 -14 0zM907.4 708.3a7 7 0 1 0 14 0a7 7 0 1 0 -14 0zM909.5 717.1a7 7 0 1 0 14 0a7 7 0 1 0 -14 0zM911.7 719.3a7 7 0 1 0 14 0a7 7 0 1 0 -14 0zM913.9 720.8a7 7 0 1 0 14 0a7 7 0 1 0 -14 0zM915.9 698.4a7 7 0 1 0 14 0a7 7 0 1 0 -14 0zM917.8 726.2a7 7 0 1 0 14 0a7 7 0 1 0 -14 0zM919.7 705.9a7 7 0 1 0 14 0a7 7 0 1 0 -14 0zM921.5 707.4a7 7 0 1 0 14 0a7 7 0 1 0 -14 0zM923.2 699.8a7 7 0 1 0 14 0a7 7 0 1 0 -14 0zM924.9 686.0a7 7 0 1 0 14 0a7 7 0 1 0 -14 0zM926.5 709.8a7 7 0 1 0 14 0a7 7 0 1 0 -14 0zM928.1 682.1a7 7 0 1 0 14 0a7 7 0 1 0 -14 0zM929.6 723.7a7 7 0 1 0 14 0a7 7 0 1 0 -14 0zM931.2 705.2a7 7 0 1 0 14 0a7 7 0 1 0 -14 0zM932.7 726.6a7 7 0 1 0 14 0a7 7 0 1 0 -14 0zM934.2 716.6a7 7 0 1 0 14 0a7 7 0 1 0 -14 0zM935.8 717.9a7 7 0 1 0 14 0a7 7 0 1 0 -14 0zM937.4 727.3a7 7 0 1 0 14 0a7 7 0 1 0 -14 0zM938.9 706.3a7 7 0 1 0 14 0a7 7 0 1 0 -14 0zM940.6 727.7a7 7 0 1 0 14 0a7 7 0 1 0 -14 0zM942.2 705.9a7 7 0 1 0 14 0a7 7 0 1 0 -14 0zM943.8 712.6a7 7 0 1 0 14 0a7 7 0 1 0 -14 0zM945.5 698.5a7 7 0 1 0 14 0a7 7 0 1 0 -14 0zM947.1 717.9a7 7 0 1 0 14 0a7 7 0 1 0 -14 0zM948.8 720.3a7 7 0 1 0 14 0a7 7 0 1 0 -14 0zM950.5 703.0a7 7 0 1 0 14 0a7 7 0 1 0 -14 0zM952.3 692.0a7 7 0 1 0 14 0a7 7 0 1 0 -14 0zM954.0 710.7a7 7 0 1 0 14 0a7 7 0 1 0 -14 0zM955.8 717.7a7 7 0 1 0 14 0a7 7 0 1 0 -14 0zM957.5 709.7a7 7 0 1 0 14 0a7 7 0 1 0 -14 0zM959.3 698.4a7 7 0 1 0 14 0a7 7 0 1 0 -14 0zM961.1 702.5a7 7 0 1 0 14 0a7 7 0 1 0 -14 0zM962.9 709.4a7 7 0 1 0 14 0a7 7 0 1 0 -14 0zM964.7 696.0a7 7 0 1 0 14 0a7 7 0 1 0 -14 0zM966.5 705.8a7 7 0 1 0 14 0a7 7 0 1 0 -14 0zM968.4 731.0a7 7 0 1 0 14 0a7 7 0 1 0 -14 0zM970.2 696.4a7 7 0 1 0 14 0a7 7 0 1 0 -14 0zM972.0 710.7a7 7 0 1 0 14 0a7 7 0 1 0 -14 0zM973.9 731.3a7 7 0 1 0 14 0a7 7 0 1 0 -14 0zM975.6 723.6a7 7 0 1 0 14 0a7 7 0 1 0 -14 0zM977.4 726.7a7 7 0 1 0 14 0a7 7 0 1 0 -14 0zM979.2 710.8a7 7 0 1 0 14 0a7 7 0 1 0 -14 0zM980.9 693.6a7 7 0 1 0 14 0a7 7 0 1 0 -14 0zM982.6 731.8a7 7 0 1 0 14 0a7 7 0 1 0 -14 0zM984.3 717.1a7 7 0 1 0 14 0a7 7 0 1 0 -14 0zM986.0 716.1a7 7 0 1 0 14 0a7 7 0 1 0 -14 0zM987.6 731.8a7 7 0 1 0 14 0a7 7 0 1 0 -14 0zM989.3 723.9a7 7 0 1 0 14 0a7 7 0 1 0 -14 0zM990.8 709.6a7 7 0 1 0 14 0a7 7 0 1 0 -14 0zM992.3 686.3a7 7 0 1 0 14 0a7 7 0 1 0 -14 0zM993.8 702.7a7 7 0 1 0 14 0a7 7 0 1 0 -14 0zM995.2 701.4a7 7 0 1 0 14 0a7 7 0 1 0 -14 0zM996.5 688.8a7 7 0 1 0 14 0a7 7 0 1 0 -14 0zM997.8 682.9a7 7 0 1 0 14 0a7 7 0 1 0 -14 0zM999.1 678.0a7 7 0 1 0 14 0a7 7 0 1 0 -14 0zM1000.4 696.7a7 7 0 1 0 14 0a7 7 0 1 0 -14 0zM1001.6 684.0a7 7 0 1 0 14 0a7 7 0 1 0 -14 0zM1002.8 707.3a7 7 0 1 0 14 0a7 7 0 1 0 -14 0zM1004.0 721.8a7 7 0 1 0 14 0a7 7 0 1 0 -14 0zM1005.1 703.2a7 7 0 1 0 14 0a7 7 0 1 0 -14 0zM1006.3 694.5a7 7 0 1 0 14 0a7 7 0 1 0 -14 0zM1007.4 726.9a7 7 0 1 0 14 0a7 7 0 1 0 -14 0zM1008.4 710.7a7 7 0 1 0 14 0a7 7 0 1 0 -14 0zM1009.5 659.4a7 7 0 1 0 14 0a7 7 0 1 0 -14 0zM1010.6 674.0a7 7 0 1 0 14 0a7 7 0 1 0 -14 0zM1011.7 698.0a7 7 0 1 0 14 0a7 7 0 1 0 -14 0zM1012.9 669.9a7 7 0 1 0 14 0a7 7 0 1 0 -14 0zM1014.0 712.5a7 7 0 1 0 14 0a7 7 0 1 0 -14 0zM1015.1 660.3a7 7 0 1 0 14 0a7 7 0 1 0 -14 0zM1016.2 660.5a7 7 0 1 0 14 0a7 7 0 1 0 -14 0zM1017.4 717.5a7 7 0 1 0 14 0a7 7 0 1 0 -14 0zM1018.5 707.2a7 7 0 1 0 14 0a7 7 0 1 0 -14 0zM1019.7 661.0a7 7 0 1 0 14 0a7 7 0 1 0 -14 0zM1020.8 694.3a7 7 0 1 0 14 0a7 7 0 1 0 -14 0zM1022.0 723.0a7 7 0 1 0 14 0a7 7 0 1 0 -14 0zM1023.2 665.1a7 7 0 1 0 14 0a7 7 0 1 0 -14 0zM1024.4 663.5a7 7 0 1 0 14 0a7 7 0 1 0 -14 0zM1025.6 663.0a7 7 0 1 0 14 0a7 7 0 1 0 -14 0zM1026.8 668.0a7 7 0 1 0 14 0a7 7 0 1 0 -14 0zM1028.0 660.9a7 7 0 1 0 14 0a7 7 0 1 0 -14 0zM1029.2 677.1a7 7 0 1 0 14 0a7 7 0 1 0 -14 0zM1030.5 659.4a7 7 0 1 0 14 0a7 7 0 1 0 -14 0zM1031.9 685.4a7 7 0 1 0 14 0a7 7 0 1 0 -14 0zM1033.2 707.0a7 7 0 1 0 14 0a7 7 0 1 0 -14 0zM1034.7 662.5a7 7 0 1 0 14 0a7 7 0 1 0 -14 0zM1036.1 700.0a7 7 0 1 0 14 0a7 7 0 1 0 -14 0zM1037.5 704.8a7 7 0 1 0 14 0a7 7 0 1 0 -14 0zM1039.0 659.7a7 7 0 1 0 14 0a7 7 0 1 0 -14 0zM1040.5 685.1a7 7 0 1 0 14 0a7 7 0 1 0 -14 0zM1042.0 683.0a7 7 0 1 0 14 0a7 7 0 1 0 -14 0zM1043.5 677.3a7 7 0 1 0 14 0a7 7 0 1 0 -14 0zM1045.0 697.4a7 7 0 1 0 14 0a7 7 0 1 0 -14 0zM1046.5 676.0a7 7 0 1 0 14 0a7 7 0 1 0 -14 0zM1048.1 688.9a7 7 0 1 0 14 0a7 7 0 1 0 -14 0zM1049.6 674.7a7 7 0 1 0 14 0a7 7 0 1 0 -14 0zM1051.1 678.0a7 7 0 1 0 14 0a7 7 0 1 0 -14 0zM1052.6 664.8a7 7 0 1 0 14 0a7 7 0 1 0 -14 0zM1054.1 702.3a7 7 0 1 0 14 0a7 7 0 1 0 -14 0zM1055.5 676.2a7 7 0 1 0 14 0a7 7 0 1 0 -14 0zM1057.0 654.0a7 7 0 1 0 14 0a7 7 0 1 0 -14 0zM1058.3 700.6a7 7 0 1 0 14 0a7 7 0 1 0 -14 0zM1059.7 700.1a7 7 0 1 0 14 0a7 7 0 1 0 -14 0zM1061.1 669.9a7 7 0 1 0 14 0a7 7 0 1 0 -14 0zM1062.4 660.6a7 7 0 1 0 14 0a7 7 0 1 0 -14 0zM1063.8 659.1a7 7 0 1 0 14 0a7 7 0 1 0 -14 0zM1065.3 696.3a7 7 0 1 0 14 0a7 7 0 1 0 -14 0zM1066.7 666.9a7 7 0 1 0 14 0a7 7 0 1 0 -14 0zM1068.2 660.0a7 7 0 1 0 14 0a7 7 0 1 0 -14 0zM1069.7 686.7a7 7 0 1 0 14 0a7 7 0 1 0 -14 0zM1071.3 667.6a7 7 0 1 0 14 0a7 7 0 1 0 -14 0zM1072.9 670.9a7 7 0 1 0 14 0a7 7 0 1 0 -14 0zM1074.6 691.0a7 7 0 1 0 14 0a7 7 0 1 0 -14 0zM1076.3 684.9a7 7 0 1 0 14 0a7 7 0 1 0 -14 0zM1077.9 690.6a7 7 0 1 0 14 0a7 7 0 1 0 -14 0zM1079.7 678.0a7 7 0 1 0 14 0a7 7 0 1 0 -14 0zM1081.4 690.4a7 7 0 1 0 14 0a7 7 0 1 0 -14 0zM1083.1 669.4a7 7 0 1 0 14 0a7 7 0 1 0 -14 0zM1084.9 686.0a7 7 0 1 0 14 0a7 7 0 1 0 -14 0zM1086.6 687.1a7 7 0 1 0 14 0a7 7 0 1 0 -14 0zM1088.4 665.4a7 7 0 1 0 14 0a7 7 0 1 0 -14 0zM1090.2 652.2a7 7 0 1 0 14 0a7 7 0 1 0 -14 0zM1091.9 677.6a7 7 0 1 0 14 0a7 7 0 1 0 -14 0zM1093.7 667.1a7 7 0 1 0 14 0a7 7 0 1 0 -14 0zM1095.4 677.3a7 7 0 1 0 14 0a7 7 0 1 0 -14 0zM1097.1 658.2a7 7 0 1 0 14 0a7 7 0 1 0 -14 0zM1098.8 674.7a7 7 0 1 0 14 0a7 7 0 1 0 -14 0zM1100.5 680.6a7 7 0 1 0 14 0a7 7 0 1 0 -14 0zM1102.2 684.3a7 7 0 1 0 14 0a7 7 0 1 0 -14 0zM1103.9 683.4a7 7 0 1 0 14 0a7 7 0 1 0 -14 0zM1105.7 670.1a7 7 0 1 0 14 0a7 7 0 1 0 -14 0zM1107.4 681.5a7 7 0 1 0 14 0a7 7 0 1 0 -14 0zM1109.3 655.1a7 7 0 1 0 14 0a7 7 0 1 0 -14 0zM1111.1 678.5a7 7 0 1 0 14 0a7 7 0 1 0 -14 0zM1113.0 664.5a7 7 0 1 0 14 0a7 7 0 1 0 -14 0zM1115.0 677.9a7 7 0 1 0 14 0a7 7 0 1 0 -14 0zM1117.0 666.8a7 7 0 1 0 14 0a7 7 0 1 0 -14 0zM1119.0 660.4a7 7 0 1 0 14 0a7 7 0 1 0 -14 0zM1121.1 655.2a7 7 0 1 0 14 0a7 7 0 1 0 -14 0zM1123.2 677.3a7 7 0 1 0 14 0a7 7 0 1 0 -14 0zM1125.3 664.4a7 7 0 1 0 14 0a7 7 0 1 0 -14 0zM1127.5 671.4a7 7 0 1 0 14 0a7 7 0 1 0 -14 0zM1129.7 669.2a7 7 0 1 0 14 0a7 7 0 1 0 -14 0zM1131.8 646.8a7 7 0 1 0 14 0a7 7 0 1 0 -14 0zM1133.7 671.3a7 7 0 1 0 14 0a7 7 0 1 0 -14 0zM1135.5 656.4a7 7 0 1 0 14 0a7 7 0 1 0 -14 0zM1137.1 669.1a7 7 0 1 0 14 0a7 7 0 1 0 -14 0zM1138.8 671.7a7 7 0 1 0 14 0a7 7 0 1 0 -14 0zM1140.5 645.7a7 7 0 1 0 14 0a7 7 0 1 0 -14 0zM1142.1 661.7a7 7 0 1 0 14 0a7 7 0 1 0 -14 0zM1143.8 667.0a7 7 0 1 0 14 0a7 7 0 1 0 -14 0zM1145.5 675.1a7 7 0 1 0 14 0a7 7 0 1 0 -14 0zM1147.2 684.7a7 7 0 1 0 14 0a7 7 0 1 0 -14 0zM1148.9 660.2a7 7 0 1 0 14 0a7 7 0 1 0 -14 0zM1150.6 666.3a7 7 0 1 0 14 0a7 7 0 1 0 -14 0zM1152.3 679.2a7 7 0 1 0 14 0a7 7 0 1 0 -14 0zM1153.9 647.8a7 7 0 1 0 14 0a7 7 0 1 0 -14 0zM1155.5 688.3a7 7 0 1 0 14 0a7 7 0 1 0 -14 0zM1157.1 650.7a7 7 0 1 0 14 0a7 7 0 1 0 -14 0zM1158.8 684.1a7 7 0 1 0 14 0a7 7 0 1 0 -14 0zM1160.4 665.0a7 7 0 1 0 14 0a7 7 0 1 0 -14 0zM1162.1 679.7a7 7 0 1 0 14 0a7 7 0 1 0 -14 0zM1163.9 674.4a7 7 0 1 0 14 0a7 7 0 1 0 -14 0zM1165.7 657.3a7 7 0 1 0 14 0a7 7 0 1 0 -14 0zM1167.5 639.3a7 7 0 1 0 14 0a7 7 0 1 0 -14 0zM1169.4 657.2a7 7 0 1 0 14 0a7 7 0 1 0 -14 0zM1171.3 659.7a7 7 0 1 0 14 0a7 7 0 1 0 -14 0zM1173.2 662.4a7 7 0 1 0 14 0a7 7 0 1 0 -14 0zM1175.2 640.0a7 7 0 1 0 14 0a7 7 0 1 0 -14 0zM1177.2 645.5a7 7 0 1 0 14 0a7 7 0 1 0 -14 0zM1179.2 646.3a7 7 0 1 0 14 0a7 7 0 1 0 -14 0zM1181.2 658.8a7 7 0 1 0 14 0a7 7 0 1 0 -14 0zM1183.3 644.7a7 7 0 1 0 14 0a7 7 0 1 0 -14 0zM1185.2 653.9a7 7 0 1 0 14 0a7 7 0 1 0 -14 0zM1187.0 669.7a7 7 0 1 0 14 0a7 7 0 1 0 -14 0zM1188.8 648.6a7 7 0 1 0 14 0a7 7 0 1 0 -14 0zM1190.4 677.7a7 7 0 1 0 14 0a7 7 0 1 0 -14 0zM1191.9 661.1a7 7 0 1 0 14 0a7 7 0 1 0 -14 0zM1193.3 650.6a7 7 0 1 0 14 0a7 7 0 1 0 -14 0zM1194.7 678.4a7 7 0 1 0 14 0a7 7 0 1 0 -14 0zM1196.1 665.4a7 7 0 1 0 14 0a7 7 0 1 0 -14 0zM1197.4 647.6a7 7 0 1 0 14 0a7 7 0 1 0 -14 0zM1198.7 639.9a7 7 0 1 0 14 0a7 7 0 1 0 -14 0zM1200.0 651.0a7 7 0 1 0 14 0a7 7 0 1 0 -14 0zM1201.2 659.2a7 7 0 1 0 14 0a7 7 0 1 0 -14 0zM1202.4 677.1a7 7 0 1 0 14 0a7 7 0 1 0 -14 0zM1203.7 655.9a7 7 0 1 0 14 0a7 7 0 1 0 -14 0zM1204.9 633.7a7 7 0 1 0 14 0a7 7 0 1 0 -14 0zM1206.1 618.5a7 7 0 1 0 14 0a7 7 0 1 0 -14 0zM1207.3 653.0a7 7 0 1 0 14 0a7 7 0 1 0 -14 0zM1208.6 655.0a7 7 0 1 0 14 0a7 7 0 1 0 -14 0zM1209.9 668.7a7 7 0 1 0 14 0a7 7 0 1 0 -14 0zM1211.2 635.0a7 7 0 1 0 14 0a7 7 0 1 0 -14 0zM1212.7 621.8a7 7 0 1 0 14 0a7 7 0 1 0 -14 0zM1214.2 657.3a7 7 0 1 0 14 0a7 7 0 1 0 -14 0zM1215.8 640.1a7 7 0 1 0 14 0a7 7 0 1 0 -14 0zM1217.4 622.8a7 7 0 1 0 14 0a7 7 0 1 0 -14 0zM1219.1 662.4a7 7 0 1 0 14 0a7 7 0 1 0 -14 0zM1220.7 656.2a7 7 0 1 0 14 0a7 7 0 1 0 -14 0zM1222.3 642.3a7 7 0 1 0 14 0a7 7 0 1 0 -14 0zM1223.9 645.5a7 7 0 1 0 14 0a7 7 0 1 0 -14 0zM1225.5 627.9a7 7 0 1 0 14 0a7 7 0 1 0 -14 0zM1227.1 656.8a7 7 0 1 0 14 0a7 7 0 1 0 -14 0zM1228.7 632.2a7 7 0 1 0 14 0a7 7 0 1 0 -14 0zM1230.2 630.6a7 7 0 1 0 14 0a7 7 0 1 0 -14 0zM1231.9 631.4a7 7 0 1 0 14 0a7 7 0 1 0 -14 0zM1233.5 617.5a7 7 0 1 0 14 0a7 7 0 1 0 -14 0zM1235.3 648.6a7 7 0 1 0 14 0a7 7 0 1 0 -14 0zM1237.0 651.2a7 7 0 1 0 14 0a7 7 0 1 0 -14 0zM1238.8 643.1a7 7 0 1 0 14 0a7 7 0 1 0 -14 0zM1240.5 612.1a7 7 0 1 0 14 0a7 7 0 1 0 -14 0zM1242.2 625.5a7 7 0 1 0 14 0a7 7 0 1 0 -14 0zM1244.0 619.7a7 7 0 1 0 14 0a7 7 0 1 0 -14 0zM1245.7 634.0a7 7 0 1 0 14 0a7 7 0 1 0 -14 0zM1247.4 608.6a7 7 0 1 0 14 0a7 7 0 1 0 -14 0zM1249.1 607.7a7 7 0 1 0 14 0a7 7 0 1 0 -14 0zM1250.8 618.9a7 7 0 1 0 14 0a7 7 0 1 0 -14 0zM1252.6 639.9a7 7 0 1 0 14 0a7 7 0 1 0 -14 0zM1254.3 621.4a7 7 0 1 0 14 0a7 7 0 1 0 -14 0zM1256.0 642.6a7 7 0 1 0 14 0a7 7 0 1 0 -14 0zM1257.7 609.6a7 7 0 1 0 14 0a7 7 0 1 0 -14 0zM1259.4 622.4a7 7 0 1 0 14 0a7 7 0 1 0 -14 0zM1261.1 618.7a7 7 0 1 0 14 0a7 7 0 1 0 -14 0zM1262.7 607.3a7 7 0 1 0 14 0a7 7 0 1 0 -14 0zM1264.4 636.5a7 7 0 1 0 14 0a7 7 0 1 0 -14 0zM1266.1 598.9a7 7 0 1 0 14 0a7 7 0 1 0 -14 0zM1267.8 601.1a7 7 0 1 0 14 0a7 7 0 1 0 -14 0zM1269.5 610.9a7 7 0 1 0 14 0a7 7 0 1 0 -14 0zM1271.1 608.1a7 7 0 1 0 14 0a7 7 0 1 0 -14 0zM1272.8 632.5a7 7 0 1 0 14 0a7 7 0 1 0 -14 0zM1274.5 605.4a7 7 0 1 0 14 0a7 7 0 1 0 -14 0zM1276.1 620.8a7 7 0 1 0 14 0a7 7 0 1 0 -14 0zM1277.8 604.5a7 7 0 1 0 14 0a7 7 0 1 0 -14 0zM1279.4 631.1a7 7 0 1 0 14 0a7 7 0 1 0 -14 0zM1281.1 609.8a7 7 0 1 0 14 0a7 7 0 1 0 -14 0zM1282.7 613.4a7 7 0 1 0 14 0a7 7 0 1 0 -14 0zM1284.3 587.9a7 7 0 1 0 14 0a7 7 0 1 0 -14 0zM1286.0 618.8a7 7 0 1 0 14 0a7 7 0 1 0 -14 0zM1287.6 596.0a7 7 0 1 0 14 0a7 7 0 1 0 -14 0zM1289.2 620.0a7 7 0 1 0 14 0a7 7 0 1 0 -14 0zM1290.8 612.9a7 7 0 1 0 14 0a7 7 0 1 0 -14 0zM1292.4 612.7a7 7 0 1 0 14 0a7 7 0 1 0 -14 0zM1294.1 621.4a7 7 0 1 0 14 0a7 7 0 1 0 -14 0zM1295.7 608.2a7 7 0 1 0 14 0a7 7 0 1 0 -14 0zM1297.3 586.4a7 7 0 1 0 14 0a7 7 0 1 0 -14 0zM1298.9 602.8a7 7 0 1 0 14 0a7 7 0 1 0 -14 0zM1300.4 602.4a7 7 0 1 0 14 0a7 7 0 1 0 -14 0zM1302.0 579.5a7 7 0 1 0 14 0a7 7 0 1 0 -14 0zM1303.6 608.6a7 7 0 1 0 14 0a7 7 0 1 0 -14 0zM1305.3 618.5a7 7 0 1 0 14 0a7 7 0 1 0 -14 0zM1306.9 601.3a7 7 0 1 0 14 0a7 7 0 1 0 -14 0zM1308.5 598.6a7 7 0 1 0 14 0a7 7 0 1 0 -14 0zM1310.1 603.7a7 7 0 1 0 14 0a7 7 0 1 0 -14 0zM1311.7 613.3a7 7 0 1 0 14 0a7 7 0 1 0 -14 0zM1313.4 586.5a7 7 0 1 0 14 0a7 7 0 1 0 -14 0zM1315.0 609.7a7 7 0 1 0 14 0a7 7 0 1 0 -14 0zM1316.7 582.2a7 7 0 1 0 14 0a7 7 0 1 0 -14 0zM1318.3 601.8a7 7 0 1 0 14 0a7 7 0 1 0 -14 0zM1320.0 600.9a7 7 0 1 0 14 0a7 7 0 1 0 -14 0zM1321.7 572.6a7 7 0 1 0 14 0a7 7 0 1 0 -14 0zM1323.3 601.9a7 7 0 1 0 14 0a7 7 0 1 0 -14 0zM1325.0 594.4a7 7 0 1 0 14 0a7 7 0 1 0 -14 0zM1326.7 571.2a7 7 0 1 0 14 0a7 7 0 1 0 -14 0zM1328.4 583.1a7 7 0 1 0 14 0a7 7 0 1 0 -14 0zM1330.1 579.9a7 7 0 1 0 14 0a7 7 0 1 0 -14 0zM1331.8 575.6a7 7 0 1 0 14 0a7 7 0 1 0 -14 0zM1333.5 595.3a7 7 0 1 0 14 0a7 7 0 1 0 -14 0zM1335.2 577.1a7 7 0 1 0 14 0a7 7 0 1 0 -14 0zM1337.0 589.8a7 7 0 1 0 14 0a7 7 0 1 0 -14 0zM1338.7 572.6a7 7 0 1 0 14 0a7 7 0 1 0 -14 0zM1340.4 585.0a7 7 0 1 0 14 0a7 7 0 1 0 -14 0zM1342.1 608.0a7 7 0 1 0 14 0a7 7 0 1 0 -14 0zM1343.8 595.3a7 7 0 1 0 14 0a7 7 0 1 0 -14 0zM1345.5 570.0a7 7 0 1 0 14 0a7 7 0 1 0 -14 0zM1347.2 574.8a7 7 0 1 0 14 0a7 7 0 1 0 -14 0zM1348.9 586.9a7 7 0 1 0 14 0a7 7 0 1 0 -14 0zM1350.7 570.0a7 7 0 1 0 14 0a7 7 0 1 0 -14 0zM1352.4 603.8a7 7 0 1 0 14 0a7 7 0 1 0 -14 0zM1354.1 588.4a7 7 0 1 0 14 0a7 7 0 1 0 -14 0zM1355.8 588.0a7 7 0 1 0 14 0a7 7 0 1 0 -14 0zM1357.5 589.8a7 7 0 1 0 14 0a7 7 0 1 0 -14 0zM1359.2 578.7a7 7 0 1 0 14 0a7 7 0 1 0 -14 0zM1360.9 571.8a7 7 0 1 0 14 0a7 7 0 1 0 -14 0zM1362.7 570.0a7 7 0 1 0 14 0a7 7 0 1 0 -14 0zM1364.4 570.1a7 7 0 1 0 14 0a7 7 0 1 0 -14 0zM1366.1 593.0a7 7 0 1 0 14 0a7 7 0 1 0 -14 0zM1367.8 600.1a7 7 0 1 0 14 0a7 7 0 1 0 -14 0zM1369.5 587.3a7 7 0 1 0 14 0a7 7 0 1 0 -14 0zM1371.2 571.3a7 7 0 1 0 14 0a7 7 0 1 0 -14 0zM1372.9 585.6a7 7 0 1 0 14 0a7 7 0 1 0 -14 0zM1374.6 591.6a7 7 0 1 0 14 0a7 7 0 1 0 -14 0zM1376.3 572.2a7 7 0 1 0 14 0a7 7 0 1 0 -14 0zM1378.0 611.0a7 7 0 1 0 14 0a7 7 0 1 0 -14 0zM1379.7 575.0a7 7 0 1 0 14 0a7 7 0 1 0 -14 0zM1381.4 592.4a7 7 0 1 0 14 0a7 7 0 1 0 -14 0zM1383.1 576.1a7 7 0 1 0 14 0a7 7 0 1 0 -14 0zM1384.8 607.0a7 7 0 1 0 14 0a7 7 0 1 0 -14 0zM1386.5 574.1a7 7 0 1 0 14 0a7 7 0 1 0 -14 0zM1388.2 580.0a7 7 0 1 0 14 0a7 7 0 1 0 -14 0zM1389.9 611.2a7 7 0 1 0 14 0a7 7 0 1 0 -14 0zM1391.6 575.0a7 7 0 1 0 14 0a7 7 0 1 0 -14 0zM1393.3 586.4a7 7 0 1 0 14 0a7 7 0 1 0 -14 0zM1394.9 603.5a7 7 0 1 0 14 0a7 7 0 1 0 -14 0zM1396.6 600.9a7 7 0 1 0 14 0a7 7 0 1 0 -14 0zM1398.3 574.7a7 7 0 1 0 14 0a7 7 0 1 0 -14 0zM1400.0 603.7a7 7 0 1 0 14 0a7 7 0 1 0 -14 0zM1401.6 587.9a7 7 0 1 0 14 0a7 7 0 1 0 -14 0zM1403.1 613.4a7 7 0 1 0 14 0a7 7 0 1 0 -14 0zM1404.7 568.3a7 7 0 1 0 14 0a7 7 0 1 0 -14 0zM1406.2 604.4a7 7 0 1 0 14 0a7 7 0 1 0 -14 0zM1407.6 597.1a7 7 0 1 0 14 0a7 7 0 1 0 -14 0zM1409.1 581.2a7 7 0 1 0 14 0a7 7 0 1 0 -14 0zM1410.5 579.3a7 7 0 1 0 14 0a7 7 0 1 0 -14 0zM1411.9 594.8a7 7 0 1 0 14 0a7 7 0 1 0 -14 0zM1413.2 571.7a7 7 0 1 0 14 0a7 7 0 1 0 -14 0zM1414.5 577.9a7 7 0 1 0 14 0a7 7 0 1 0 -14 0zM1415.9 567.8a7 7 0 1 0 14 0a7 7 0 1 0 -14 0zM1417.2 586.9a7 7 0 1 0 14 0a7 7 0 1 0 -14 0zM1418.4 598.4a7 7 0 1 0 14 0a7 7 0 1 0 -14 0zM1419.7 553.3a7 7 0 1 0 14 0a7 7 0 1 0 -14 0zM1420.9 582.3a7 7 0 1 0 14 0a7 7 0 1 0 -14 0zM1422.1 588.4a7 7 0 1 0 14 0a7 7 0 1 0 -14 0zM1423.3 610.6a7 7 0 1 0 14 0a7 7 0 1 0 -14 0zM1424.5 562.6a7 7 0 1 0 14 0a7 7 0 1 0 -14 0zM1425.8 607.2a7 7 0 1 0 14 0a7 7 0 1 0 -14 0zM1427.0 569.1a7 7 0 1 0 14 0a7 7 0 1 0 -14 0zM1428.3 588.0a7 7 0 1 0 14 0a7 7 0 1 0 -14 0zM1429.7 581.6a7 7 0 1 0 14 0a7 7 0 1 0 -14 0zM1431.1 581.7a7 7 0 1 0 14 0a7 7 0 1 0 -14 0z"/>
<polygon fill="#00bff0" points="239.0,842.0 253.3,842.0 253.3,842.0 263.4,842.0 263.4,842.0 275.2,842.0 275.2,840.6 289.4,840.6 289.4,836.2 303.2,836.2 303.2,836.0 316.7,836.0 316.7,836.0 331.1,836.0 331.1,836.0 344.6,836.0 344.6,836.0 353.3,836.0 353.3,836.0 364.9,836.0 364.9,833.1 378.0,833.1 378.0,829.9 390.7,829.9 390.7,827.1 401.6,827.1 401.6,825.9 413.7,825.9 413.7,825.9 428.1,825.9 428.1,825.4 439.0,825.4 439.0,823.8 451.7,823.8 451.7,821.0 463.9,821.0 463.9,818.9 474.4,818.9 474.4,818.6 483.5,818.6 483.5,818.2 497.1,818.2 497.1,817.2 505.3,817.2 505.3,815.3 518.2,815.3 518.2,810.9 529.3,810.9 529.3,803.9 537.8,803.9 537.8,799.5 548.9,799.5 548.9,794.2 564.8,794.2 564.8,784.3 579.9,784.3 579.9,783.2 594.3,783.2 594.3,768.4 607.9,768.4 607.9,755.5 621.9,755.5 621.9,747.6 636.2,747.6 636.2,747.7 645.1,747.7 645.1,746.6 655.2,746.6 655.2,745.7 665.2,745.7 665.2,740.9 678.1,740.9 678.1,735.4 690.0,735.4 690.0,734.9 700.4,734.9 700.4,729.9 713.7,729.9 713.7,723.2 724.7,723.2 724.7,723.9 735.9,723.9 735.9,722.0 751.4,722.0 751.4,716.9 763.0,716.9 763.0,704.0 777.1,704.0 777.1,698.2 788.0,698.2 788.0,690.0 796.5,690.0 796.5,686.9 809.4,686.9 809.4,680.4 824.0,680.4 824.0,666.3 832.8,666.3 832.8,657.9 845.8,657.9 845.8,660.8 858.8,660.8 858.8,644.1 871.9,644.1 871.9,630.5 885.0,630.5 885.0,606.1 899.6,606.1 899.6,610.3 914.9,610.3 914.9,596.1 926.6,596.1 926.6,612.5 935.6,612.5 935.6,627.8 947.2,627.8 947.2,631.5 957.4,631.5 957.4,645.8 971.8,645.8 971.8,647.6 987.3,647.6 987.3,646.6 997.5,646.6 997.5,621.3 1012.9,621.3 1012.9,597.7 1027.5,597.7 1027.5,570.0 1035.7,570.0 1035.7,570.7 1044.1,570.7 1044.1,540.3 1059.7,540.3 1059.7,527.2 1068.3,527.2 1068.3,525.5 1080.7,525.5 1080.7,532.3 1089.3,532.3 1089.3,534.8 1097.6,534.8 1097.6,532.8 1107.8,532.8 1107.8,527.7 1118.9,527.7 1118.9,527.9 1131.4,527.9 1131.4,525.8 1140.7,525.8 1140.7,531.6 1153.3,531.6 1153.3,519.2 1162.8,519.2 1162.8,512.8 1174.4,512.8 1174.4,509.8 1186.8,509.8 1186.8,503.6 1199.9,503.6 1199.9,506.1 1213.3,506.1 1213.3,520.7 1226.3,520.7 1226.3,509.8 1234.6,509.8 1234.6,494.1 1248.3,494.1 1248.3,509.0 1256.5,509.0 1256.5,493.7 1266.3,493.7 1266.3,468.1 1276.7,468.1 1276.7,433.2 1291.6,433.2 1291.6,415.1 1300.6,415.1 1300.6,420.6 1309.0,420.6 1309.0,411.8 1322.4,411.8 1322.4,418.3 1332.7,418.3 1332.7,446.2 1347.5,446.2 1347.5,453.7 1357.2,453.7 1357.2,431.0 1371.6,431.0 1371.6,425.3 1385.2,425.3 1385.2,412.6 1394.0,412.6 1394.0,393.0 1404.9,393.0 1404.9,384.8 1413.1,384.8 1413.1,373.8 1424.6,373.8 1424.6,361.5 1433.7,361.5 1433.7,358.6 1441.8,358.6 1441.8,353.3 1447.0,353.3 1447.0,381.1 1441.8,381.1 1441.8,392.9 1433.7,392.9 1433.7,430.8 1424.6,430.8 1424.6,432.7 1413.1,432.7 1413.1,425.0 1404.9,425.0 1404.9,437.4 1394.0,437.4 1394.0,482.3 1385.2,482.3 1385.2,501.2 1371.6,501.2 1371.6,497.3 1357.2,497.3 1357.2,537.7 1347.5,537.7 1347.5,481.7 1332.7,481.7 1332.7,476.3 1322.4,476.3 1322.4,469.2 1309.0,469.2 1309.0,472.1 1300.6,472.1 1300.6,471.1 1291.6,471.1 1291.6,498.8 1276.7,498.8 1276.7,540.6 1266.3,540.6 1266.3,553.5 1256.5,553.5 1256.5,556.2 1248.3,556.2 1248.3,575.6 1234.6,575.6 1234.6,590.0 1226.3,590.0 1226.3,599.2 1213.3,599.2 1213.3,556.5 1199.9,556.5 1199.9,547.4 1186.8,547.4 1186.8,554.4 1174.4,554.4 1174.4,559.3 1162.8,559.3 1162.8,574.1 1153.3,574.1 1153.3,579.2 1140.7,579.2 1140.7,577.4 1131.4,577.4 1131.4,569.0 1118.9,569.0 1118.9,575.4 1107.8,575.4 1107.8,578.2 1097.6,578.2 1097.6,576.0 1089.3,576.0 1089.3,570.0 1080.7,570.0 1080.7,565.9 1068.3,565.9 1068.3,568.4 1059.7,568.4 1059.7,578.4 1044.1,578.4 1044.1,600.6 1035.7,600.6 1035.7,605.5 1027.5,605.5 1027.5,628.0 1012.9,628.0 1012.9,671.9 997.5,671.9 997.5,689.5 987.3,689.5 987.3,690.8 971.8,690.8 971.8,691.9 957.4,691.9 957.4,689.0 947.2,689.0 947.2,686.7 935.6,686.7 935.6,675.6 926.6,675.6 926.6,622.4 914.9,622.4 914.9,666.3 899.6,666.3 899.6,672.1 885.0,672.1 885.0,676.0 871.9,676.0 871.9,674.6 858.8,674.6 858.8,688.2 845.8,688.2 845.8,686.5 832.8,686.5 832.8,700.9 824.0,700.9 824.0,702.8 809.4,702.8 809.4,709.8 796.5,709.8 796.5,715.4 788.0,715.4 788.0,720.7 777.1,720.7 777.1,730.8 763.0,730.8 763.0,747.7 751.4,747.7 751.4,746.5 735.9,746.5 735.9,743.5 724.7,743.5 724.7,744.7 713.7,744.7 713.7,747.2 700.4,747.2 700.4,754.3 690.0,754.3 690.0,760.3 678.1,760.3 678.1,764.4 665.2,764.4 665.2,765.2 655.2,765.2 655.2,765.1 645.1,765.1 645.1,766.8 636.2,766.8 636.2,767.5 621.9,767.5 621.9,770.8 607.9,770.8 607.9,782.2 594.3,782.2 594.3,793.5 579.9,793.5 579.9,802.1 564.8,802.1 564.8,810.0 548.9,810.0 548.9,815.9 537.8,815.9 537.8,821.1 529.3,821.1 529.3,827.8 518.2,827.8 518.2,831.7 505.3,831.7 505.3,830.6 497.1,830.6 497.1,830.8 483.5,830.8 483.5,831.1 474.4,831.1 474.4,831.8 463.9,831.8 463.9,833.8 451.7,833.8 451.7,836.3 439.0,836.3 439.0,837.8 428.1,837.8 428.1,837.5 413.7,837.5 413.7,837.1 401.6,837.1 401.6,837.7 390.7,837.7 390.7,840.5 378.0,840.5 378.0,843.4 364.9,843.4 364.9,846.0 353.3,846.0 353.3,845.6 344.6,845.6 344.6,845.3 331.1,845.3 331.1,845.0 316.7,845.0 316.7,845.0 303.2,845.0 303.2,845.1 289.4,845.1 289.4,846.5 275.2,846.5 275.2,847.3 263.4,847.3 263.4,847.6 253.3,847.6 253.3,848.0 239.0,848.0"/>
<polygon fill="#ba0c2f" points="247.0,831.0 255.1,831.0 255.1,830.7 267.2,830.7 267.2,830.4 276.6,830.4 276.6,828.4 289.0,828.4 289.0,827.5 300.2,827.5 300.2,827.7 314.2,827.7 314.2,826.1 327.8,826.1 327.8,827.5 337.8,827.5 337.8,826.3 347.1,826.3 347.1,824.4 358.4,824.4 358.4,821.1 368.5,821.1 368.5,818.8 382.4,818.8 382.4,816.9 395.6,816.9 395.6,814.7 408.4,814.7 408.4,811.7 420.3,811.7 420.3,809.8 430.3,809.8 430.3,808.7 442.2,808.7 442.2,806.5 456.0,806.5 456.0,802.7 465.9,802.7 465.9,802.2 477.1,802.2 477.1,800.3 486.3,800.3 486.3,795.0 498.5,795.0 498.5,789.4 511.9,789.4 511.9,783.0 521.1,783.0 521.1,780.2 531.8,780.2 531.8,774.1 540.5,774.1 540.5,772.2 549.2,772.2 549.2,772.2 561.5,772.2 561.5,770.2 572.5,770.2 572.5,769.5 582.7,769.5 582.7,768.0 590.9,768.0 590.9,735.7 603.3,735.7 603.3,710.0 615.9,710.0 615.9,698.5 629.8,698.5 629.8,693.3 640.1,693.3 640.1,693.1 648.3,693.1 648.3,689.4 656.6,689.4 656.6,682.9 665.8,682.9 665.8,664.4 674.9,664.4 674.9,653.4 686.0,653.4 686.0,639.8 697.2,639.8 697.2,631.3 709.5,631.3 709.5,621.3 718.2,621.3 718.2,617.6 731.9,617.6 731.9,621.8 740.9,621.8 740.9,613.1 751.4,613.1 751.4,608.3 761.3,608.3 761.3,595.6 772.5,595.6 772.5,585.2 784.9,585.2 784.9,569.3 796.6,569.3 796.6,547.2 805.8,547.2 805.8,538.2 816.2,538.2 816.2,523.8 825.4,523.8 825.4,514.7 832.0,514.7 832.0,560.3 825.4,560.3 825.4,572.4 816.2,572.4 816.2,577.4 805.8,577.4 805.8,583.9 796.6,583.9 796.6,602.5 784.9,602.5 784.9,623.8 772.5,623.8 772.5,631.8 761.3,631.8 761.3,641.2 751.4,641.2 751.4,653.7 740.9,653.7 740.9,661.7 731.9,661.7 731.9,661.4 718.2,661.4 718.2,661.1 709.5,661.1 709.5,671.7 697.2,671.7 697.2,676.0 686.0,676.0 686.0,686.3 674.9,686.3 674.9,696.7 665.8,696.7 665.8,713.1 656.6,713.1 656.6,716.8 648.3,716.8 648.3,716.2 640.1,716.2 640.1,719.7 629.8,719.7 629.8,723.6 615.9,723.6 615.9,750.0 603.3,750.0 603.3,774.5 590.9,774.5 590.9,786.0 582.7,786.0 582.7,786.6 572.5,786.6 572.5,786.8 561.5,786.8 561.5,790.4 549.2,790.4 549.2,795.3 540.5,795.3 540.5,794.9 531.8,794.9 531.8,801.6 521.1,801.6 521.1,803.1 511.9,803.1 511.9,805.7 498.5,805.7 498.5,811.5 486.3,811.5 486.3,814.2 477.1,814.2 477.1,816.9 465.9,816.9 465.9,818.0 456.0,818.0 456.0,820.0 442.2,820.0 442.2,822.4 430.3,822.4 430.3,825.7 420.3,825.7 420.3,828.1 408.4,828.1 408.4,830.5 395.6,830.5 395.6,833.1 382.4,833.1 382.4,834.5 368.5,834.5 368.5,836.2 358.4,836.2 358.4,838.0 347.1,838.0 347.1,838.8 337.8,838.8 337.8,838.7 327.8,838.7 327.8,839.0 314.2,839.0 314.2,839.0 300.2,839.0 300.2,839.6 289.0,839.6 289.0,841.1 276.6,841.1 276.6,843.0 267.2,843.0 267.2,843.7 255.1,843.7 255.1,843.9 247.0,843.9"/>
<path fill="#ba0c2f" d="M240.0 830.5h14v14h-14zM243.0 830.5h14v14h-14zM246.0 830.5h14v14h-14zM249.0 830.5h14v14h-14zM252.0 830.3h14v14h-14zM255.0 830.1h14v14h-14zM258.0 829.9h14v14h-14zM261.0 829.8h14v14h-14zM264.0 829.6h14v14h-14zM267.0 829.1h14v14h-14zM270.0 828.6h14v14h-14zM273.0 828.1h14v14h-14zM276.0 827.6h14v14h-14zM279.0 827.0h14v14h-14zM282.0 826.5h14v14h-14zM285.0 826.5h14v14h-14zM288.0 826.5h14v14h-14zM291.0 826.5h14v14h-14zM294.0 826.5h14v14h-14zM297.0 826.5h14v14h-14zM300.0 826.4h14v14h-14zM303.0 826.2h14v14h-14zM306.0 826.0h14v14h-14zM309.0 825.8h14v14h-14zM312.0 825.6h14v14h-14zM315.0 825.6h14v14h-14zM318.0 825.8h14v14h-14zM321.0 825.9h14v14h-14zM324.0 826.1h14v14h-14zM327.0 826.3h14v14h-14zM330.0 826.5h14v14h-14zM333.0 826.0h14v14h-14zM336.0 825.6h14v14h-14zM339.0 825.1h14v14h-14zM342.0 824.3h14v14h-14zM345.0 824.4h14v14h-14zM348.0 824.4h14v14h-14zM351.0 822.7h14v14h-14zM354.0 821.6h14v14h-14zM357.0 822.0h14v14h-14zM360.0 821.9h14v14h-14zM363.0 822.0h14v14h-14zM366.0 819.4h14v14h-14zM369.0 818.8h14v14h-14zM372.0 820.1h14v14h-14zM375.0 819.4h14v14h-14zM378.0 819.8h14v14h-14zM381.0 818.9h14v14h-14zM384.0 817.2h14v14h-14zM387.0 816.5h14v14h-14zM390.0 817.6h14v14h-14zM393.0 815.3h14v14h-14zM396.0 814.3h14v14h-14zM399.0 813.4h14v14h-14zM402.0 814.0h14v14h-14zM405.0 813.5h14v14h-14zM408.0 812.4h14v14h-14zM411.0 812.1h14v14h-14zM414.0 811.8h14v14h-14zM417.0 811.6h14v14h-14zM420.0 811.3h14v14h-14zM423.0 810.1h14v14h-14zM426.0 808.3h14v14h-14zM429.0 809.3h14v14h-14zM432.0 807.2h14v14h-14zM435.0 807.4h14v14h-14zM438.0 805.9h14v14h-14zM441.0 806.2h14v14h-14zM444.0 805.0h14v14h-14zM447.0 805.0h14v14h-14zM450.0 805.2h14v14h-14zM453.0 803.7h14v14h-14zM456.0 803.9h14v14h-14zM459.0 802.2h14v14h-14zM462.0 802.4h14v14h-14zM465.0 802.5h14v14h-14zM468.0 801.7h14v14h-14zM471.0 801.3h14v14h-14zM474.0 800.2h14v14h-14zM477.0 798.5h14v14h-14zM480.0 798.6h14v14h-14zM483.0 796.5h14v14h-14zM486.0 797.6h14v14h-14zM489.0 794.5h14v14h-14zM492.0 794.8h14v14h-14zM495.0 792.6h14v14h-14zM498.0 793.3h14v14h-14zM501.0 788.7h14v14h-14zM504.0 791.4h14v14h-14zM507.0 787.3h14v14h-14zM510.0 790.6h14v14h-14zM513.0 787.7h14v14h-14zM516.0 785.0h14v14h-14zM519.0 780.5h14v14h-14zM522.0 785.1h14v14h-14zM525.0 782.7h14v14h-14zM528.0 784.8h14v14h-14zM531.0 777.1h14v14h-14zM534.0 779.5h14v14h-14zM537.0 778.7h14v14h-14zM540.0 777.4h14v14h-14zM543.0 776.6h14v14h-14zM546.0 775.5h14v14h-14zM549.0 772.0h14v14h-14zM552.0 770.1h14v14h-14zM555.0 770.1h14v14h-14zM558.0 771.6h14v14h-14zM561.0 773.1h14v14h-14zM564.0 772.8h14v14h-14zM567.0 773.3h14v14h-14zM570.0 772.5h14v14h-14zM573.0 771.9h14v14h-14zM576.0 770.7h14v14h-14zM579.0 771.2h14v14h-14zM582.0 772.0h14v14h-14zM585.0 754.4h14v14h-14zM587.7 745.4h14v14h-14zM589.7 772.4h14v14h-14zM590.1 771.1h14v14h-14zM592.2 743.2h14v14h-14zM591.2 770.2h14v14h-14zM594.2 740.8h14v14h-14zM596.2 732.7h14v14h-14zM598.3 745.1h14v14h-14zM596.4 718.1h14v14h-14zM600.4 717.8h14v14h-14zM601.7 744.8h14v14h-14zM602.6 736.6h14v14h-14zM605.2 725.8h14v14h-14zM608.0 719.0h14v14h-14zM611.0 704.8h14v14h-14zM614.0 702.2h14v14h-14zM617.0 704.1h14v14h-14zM620.0 707.8h14v14h-14zM623.0 700.4h14v14h-14zM626.0 696.9h14v14h-14zM629.0 695.5h14v14h-14zM632.0 695.2h14v14h-14zM635.0 697.5h14v14h-14zM638.0 695.2h14v14h-14zM641.0 696.5h14v14h-14zM644.0 696.5h14v14h-14zM647.0 696.9h14v14h-14zM650.0 693.1h14v14h-14zM653.0 684.7h14v14h-14zM656.0 685.8h14v14h-14zM659.0 680.9h14v14h-14zM662.0 668.7h14v14h-14zM665.0 660.1h14v14h-14zM668.0 675.6h14v14h-14zM671.0 653.0h14v14h-14zM674.0 660.7h14v14h-14zM676.9 670.1h14v14h-14zM679.8 642.2h14v14h-14zM682.5 658.6h14v14h-14zM685.3 657.3h14v14h-14zM688.0 640.3h14v14h-14zM690.8 635.5h14v14h-14zM693.5 651.3h14v14h-14zM696.3 646.8h14v14h-14zM699.0 656.6h14v14h-14zM701.6 629.0h14v14h-14zM701.4 656.0h14v14h-14zM704.0 643.7h14v14h-14zM706.3 637.4h14v14h-14zM708.6 652.1h14v14h-14zM710.7 609.4h14v14h-14zM712.8 623.6h14v14h-14zM714.9 627.1h14v14h-14zM717.0 620.9h14v14h-14zM719.2 613.1h14v14h-14zM718.5 640.1h14v14h-14zM721.4 637.7h14v14h-14zM723.7 633.2h14v14h-14zM726.0 649.0h14v14h-14zM728.4 620.7h14v14h-14zM730.8 639.8h14v14h-14zM733.3 624.5h14v14h-14zM735.9 619.6h14v14h-14zM738.5 613.1h14v14h-14zM741.3 632.0h14v14h-14zM744.1 616.2h14v14h-14zM747.0 625.1h14v14h-14zM750.0 606.7h14v14h-14zM753.0 606.3h14v14h-14zM756.0 607.7h14v14h-14zM759.0 600.7h14v14h-14zM761.8 615.9h14v14h-14zM764.5 600.7h14v14h-14zM767.0 598.5h14v14h-14zM769.5 613.7h14v14h-14zM772.0 593.2h14v14h-14zM774.6 588.9h14v14h-14zM777.3 576.9h14v14h-14zM780.1 581.2h14v14h-14zM783.0 566.0h14v14h-14zM785.9 558.9h14v14h-14zM788.8 573.4h14v14h-14zM791.5 575.7h14v14h-14zM794.3 564.9h14v14h-14zM796.9 566.6h14v14h-14zM799.5 553.8h14v14h-14zM802.1 541.5h14v14h-14zM804.6 549.1h14v14h-14zM807.0 530.5h14v14h-14zM809.5 545.7h14v14h-14zM811.8 539.0h14v14h-14zM814.2 546.3h14v14h-14zM816.5 538.9h14v14h-14zM818.7 524.0h14v14h-14zM820.9 524.4h14v14h-14zM822.1 551.4h14v14h-14zM823.1 550.0h14v14h-14zM825.2 532.2h14v14h-14zM827.3 534.4h14v14h-14zM827.3 507.4h14v14h-14zM829.5 534.9h14v14h-14zM831.7 498.8h14v14h-14zM833.9 511.9h14v14h-14zM836.2 516.1h14v14h-14zM838.6 510.0h14v14h-14zM841.1 488.2h14v14h-14zM843.4 486.6h14v14h-14zM845.3 461.6h14v14h-14zM847.1 478.1h14v14h-14zM848.7 509.3h14v14h-14zM850.1 459.0h14v14h-14zM851.5 509.0h14v14h-14zM849.6 482.0h14v14h-14zM852.8 477.7h14v14h-14zM854.7 450.7h14v14h-14zM854.0 445.3h14v14h-14zM855.2 434.5h14v14h-14zM856.3 432.4h14v14h-14zM857.5 456.0h14v14h-14zM858.4 429.0h14v14h-14zM858.7 445.5h14v14h-14zM859.8 455.7h14v14h-14zM860.0 482.7h14v14h-14zM861.0 461.7h14v14h-14zM862.1 420.1h14v14h-14zM863.3 462.9h14v14h-14zM861.8 489.9h14v14h-14zM864.4 422.1h14v14h-14zM865.5 475.2h14v14h-14zM865.4 502.2h14v14h-14zM866.7 450.7h14v14h-14zM867.8 445.6h14v14h-14zM868.9 431.6h14v14h-14zM870.9 458.6h14v14h-14zM870.1 424.1h14v14h-14zM871.2 417.9h14v14h-14zM872.3 449.3h14v14h-14zM870.5 422.3h14v14h-14zM873.4 444.0h14v14h-14zM872.3 417.0h14v14h-14zM874.6 488.9h14v14h-14zM875.7 453.9h14v14h-14zM876.8 464.9h14v14h-14zM877.9 491.8h14v14h-14zM879.0 443.1h14v14h-14zM880.1 417.0h14v14h-14zM880.5 444.0h14v14h-14zM881.2 457.3h14v14h-14zM882.4 465.1h14v14h-14zM883.5 430.9h14v14h-14zM884.6 447.9h14v14h-14zM885.7 459.0h14v14h-14zM886.9 464.9h14v14h-14zM888.0 511.5h14v14h-14zM889.1 448.3h14v14h-14zM889.4 475.3h14v14h-14zM890.3 452.8h14v14h-14zM890.3 425.8h14v14h-14zM891.4 464.5h14v14h-14zM892.5 466.6h14v14h-14zM893.7 428.8h14v14h-14zM894.8 504.3h14v14h-14zM893.1 477.3h14v14h-14zM896.0 443.5h14v14h-14zM897.2 467.0h14v14h-14zM898.3 471.2h14v14h-14zM899.9 498.2h14v14h-14zM899.5 509.4h14v14h-14zM900.6 508.6h14v14h-14zM901.8 460.6h14v14h-14zM903.0 490.9h14v14h-14zM904.2 469.0h14v14h-14zM902.8 442.0h14v14h-14zM905.3 499.0h14v14h-14zM906.5 475.7h14v14h-14zM904.9 502.7h14v14h-14zM907.7 471.0h14v14h-14zM908.9 456.7h14v14h-14zM909.7 429.7h14v14h-14zM910.0 475.3h14v14h-14zM911.2 465.1h14v14h-14zM912.4 440.9h14v14h-14zM913.5 442.8h14v14h-14zM914.7 470.5h14v14h-14zM915.9 485.7h14v14h-14zM917.0 506.9h14v14h-14zM918.2 505.8h14v14h-14zM917.4 478.8h14v14h-14zM919.3 435.2h14v14h-14zM920.5 503.8h14v14h-14zM921.7 474.7h14v14h-14zM922.8 475.5h14v14h-14zM922.6 448.5h14v14h-14zM924.0 492.9h14v14h-14zM925.1 443.2h14v14h-14zM923.5 416.2h14v14h-14zM926.3 430.5h14v14h-14zM927.4 444.5h14v14h-14zM927.4 471.5h14v14h-14zM928.6 449.4h14v14h-14zM926.7 422.4h14v14h-14zM929.7 439.4h14v14h-14zM930.9 414.3h14v14h-14zM932.0 414.9h14v14h-14zM933.1 467.6h14v14h-14zM933.4 440.6h14v14h-14zM934.3 475.7h14v14h-14zM932.6 502.7h14v14h-14zM935.4 485.6h14v14h-14zM936.5 478.4h14v14h-14zM934.5 505.4h14v14h-14zM937.6 442.6h14v14h-14zM937.0 469.6h14v14h-14zM938.7 416.3h14v14h-14zM939.8 450.8h14v14h-14zM940.9 453.8h14v14h-14zM942.1 426.8h14v14h-14zM942.0 445.1h14v14h-14zM943.1 417.5h14v14h-14zM944.2 417.7h14v14h-14zM945.3 461.9h14v14h-14zM946.3 434.9h14v14h-14zM946.4 475.3h14v14h-14zM947.9 502.3h14v14h-14zM947.4 418.6h14v14h-14zM948.5 471.8h14v14h-14zM946.8 444.8h14v14h-14zM949.6 420.1h14v14h-14zM948.0 447.1h14v14h-14zM950.7 513.3h14v14h-14zM951.7 424.2h14v14h-14zM953.5 451.2h14v14h-14zM952.9 456.0h14v14h-14zM954.0 447.7h14v14h-14zM955.2 444.0h14v14h-14zM956.3 467.7h14v14h-14zM957.6 460.6h14v14h-14zM958.8 437.5h14v14h-14zM960.1 475.9h14v14h-14zM961.1 448.9h14v14h-14zM961.4 459.1h14v14h-14zM962.7 499.1h14v14h-14zM964.0 482.7h14v14h-14zM965.5 450.1h14v14h-14zM966.9 481.6h14v14h-14zM968.4 455.5h14v14h-14zM969.9 447.7h14v14h-14zM971.4 443.6h14v14h-14zM972.9 501.3h14v14h-14zM974.5 448.9h14v14h-14zM974.6 475.9h14v14h-14zM976.0 451.1h14v14h-14zM977.6 448.9h14v14h-14zM979.2 469.2h14v14h-14zM980.8 446.2h14v14h-14zM982.4 478.1h14v14h-14zM984.0 421.3h14v14h-14zM982.2 448.3h14v14h-14zM985.6 429.8h14v14h-14zM983.8 456.8h14v14h-14zM987.2 471.0h14v14h-14zM986.9 444.0h14v14h-14zM988.9 438.1h14v14h-14zM990.5 448.6h14v14h-14zM992.2 441.2h14v14h-14zM993.8 464.8h14v14h-14zM992.0 437.8h14v14h-14zM995.5 463.3h14v14h-14zM994.3 436.3h14v14h-14zM997.2 456.6h14v14h-14zM998.9 440.5h14v14h-14zM1000.6 415.6h14v14h-14zM1002.3 430.1h14v14h-14zM1004.1 403.1h14v14h-14zM1004.0 421.1h14v14h-14zM1005.2 448.1h14v14h-14zM1005.8 405.2h14v14h-14zM1007.6 405.8h14v14h-14zM1009.3 422.6h14v14h-14zM1011.1 386.1h14v14h-14zM1012.9 389.9h14v14h-14zM1014.8 374.5h14v14h-14zM1016.6 398.2h14v14h-14zM1018.4 411.4h14v14h-14zM1016.8 384.4h14v14h-14zM1020.3 397.3h14v14h-14zM1022.1 402.3h14v14h-14zM1024.0 397.8h14v14h-14zM1025.8 381.5h14v14h-14zM1027.7 379.5h14v14h-14zM1028.6 406.5h14v14h-14zM1029.5 395.1h14v14h-14zM1029.3 368.1h14v14h-14zM1031.4 392.1h14v14h-14zM1033.2 400.1h14v14h-14zM1032.4 427.1h14v14h-14zM1035.2 424.0h14v14h-14zM1037.1 432.9h14v14h-14zM1039.1 424.2h14v14h-14zM1041.2 421.1h14v14h-14zM1043.2 440.3h14v14h-14zM1045.3 445.8h14v14h-14zM1047.4 423.7h14v14h-14zM1046.2 450.7h14v14h-14zM1049.5 438.6h14v14h-14zM1048.6 465.6h14v14h-14zM1051.6 438.1h14v14h-14zM1052.2 465.1h14v14h-14zM1053.7 428.5h14v14h-14zM1054.0 455.5h14v14h-14zM1055.8 466.9h14v14h-14zM1057.9 466.1h14v14h-14zM1060.1 429.6h14v14h-14zM1062.3 419.1h14v14h-14zM1064.4 462.9h14v14h-14zM1066.6 442.0h14v14h-14zM1068.8 436.5h14v14h-14zM1071.0 445.7h14v14h-14zM1073.2 410.1h14v14h-14zM1075.2 447.2h14v14h-14zM1077.1 410.3h14v14h-14zM1078.9 430.4h14v14h-14zM1080.7 434.5h14v14h-14zM1082.4 394.7h14v14h-14zM1084.0 400.8h14v14h-14zM1085.6 455.3h14v14h-14zM1087.3 439.7h14v14h-14zM1086.3 412.7h14v14h-14zM1088.9 444.4h14v14h-14zM1087.3 417.4h14v14h-14zM1090.6 441.3h14v14h-14zM1092.4 400.1h14v14h-14zM1093.5 427.1h14v14h-14zM1094.2 446.4h14v14h-14zM1096.1 438.0h14v14h-14zM1098.0 415.7h14v14h-14zM1100.0 427.6h14v14h-14zM1102.0 403.7h14v14h-14zM1103.4 430.7h14v14h-14zM1104.1 438.9h14v14h-14zM1106.2 399.0h14v14h-14zM1108.4 407.7h14v14h-14zM1110.6 402.1h14v14h-14zM1112.9 399.6h14v14h-14zM1115.3 419.0h14v14h-14zM1117.7 401.2h14v14h-14zM1117.8 428.2h14v14h-14zM1120.0 413.3h14v14h-14zM1119.9 386.3h14v14h-14zM1122.2 401.2h14v14h-14zM1124.4 384.1h14v14h-14zM1126.4 398.2h14v14h-14zM1125.7 371.2h14v14h-14zM1128.5 391.9h14v14h-14zM1127.3 418.9h14v14h-14zM1130.4 396.9h14v14h-14zM1132.4 424.3h14v14h-14zM1134.0 397.3h14v14h-14zM1134.3 359.5h14v14h-14zM1136.2 419.3h14v14h-14zM1138.1 416.8h14v14h-14zM1139.9 377.9h14v14h-14zM1141.6 404.9h14v14h-14zM1141.8 371.0h14v14h-14zM1143.6 411.7h14v14h-14zM1143.2 384.7h14v14h-14zM1145.4 388.0h14v14h-14zM1147.2 398.1h14v14h-14zM1149.1 397.2h14v14h-14zM1150.9 351.0h14v14h-14zM1152.7 421.0h14v14h-14zM1154.5 355.5h14v14h-14zM1156.4 379.3h14v14h-14zM1157.5 352.3h14v14h-14zM1158.2 355.0h14v14h-14zM1160.1 352.8h14v14h-14zM1161.9 348.1h14v14h-14zM1163.7 422.0h14v14h-14zM1165.4 381.1h14v14h-14zM1167.0 399.5h14v14h-14zM1168.6 389.1h14v14h-14zM1169.3 416.1h14v14h-14zM1170.1 422.0h14v14h-14zM1171.5 401.3h14v14h-14zM1172.9 393.9h14v14h-14zM1174.0 366.9h14v14h-14zM1174.3 369.5h14v14h-14zM1174.4 342.5h14v14h-14zM1175.7 342.3h14v14h-14zM1177.1 354.3h14v14h-14zM1176.7 381.3h14v14h-14zM1178.5 305.4h14v14h-14zM1180.0 309.2h14v14h-14zM1181.5 337.1h14v14h-14zM1182.5 364.1h14v14h-14zM1183.0 324.2h14v14h-14zM1184.6 356.1h14v14h-14zM1186.2 349.3h14v14h-14zM1187.8 296.3h14v14h-14zM1189.5 314.7h14v14h-14zM1191.2 326.4h14v14h-14zM1193.0 256.8h14v14h-14zM1194.7 283.8h14v14h-14zM1194.8 282.7h14v14h-14zM1196.6 236.4h14v14h-14zM1198.5 277.0h14v14h-14zM1197.8 250.0h14v14h-14zM1200.4 263.1h14v14h-14zM1202.3 217.9h14v14h-14zM1200.7 244.9h14v14h-14zM1204.1 237.4h14v14h-14zM1206.0 278.6h14v14h-14zM1205.6 251.6h14v14h-14zM1207.7 280.9h14v14h-14zM1209.4 241.4h14v14h-14zM1211.4 214.4h14v14h-14zM1211.1 244.1h14v14h-14zM1210.5 217.1h14v14h-14zM1212.8 280.5h14v14h-14zM1213.8 253.5h14v14h-14zM1214.4 207.2h14v14h-14zM1216.0 230.4h14v14h-14zM1217.6 267.8h14v14h-14zM1219.2 232.1h14v14h-14zM1220.8 235.3h14v14h-14zM1222.5 250.4h14v14h-14zM1220.9 277.4h14v14h-14zM1224.2 269.4h14v14h-14zM1225.9 264.2h14v14h-14zM1227.6 213.9h14v14h-14zM1227.8 240.9h14v14h-14zM1229.3 230.8h14v14h-14zM1231.0 275.3h14v14h-14zM1232.6 205.3h14v14h-14zM1234.2 240.7h14v14h-14zM1234.7 213.7h14v14h-14zM1235.8 248.2h14v14h-14zM1236.5 275.2h14v14h-14zM1237.3 255.1h14v14h-14zM1236.3 282.1h14v14h-14zM1238.7 267.6h14v14h-14zM1240.2 215.4h14v14h-14zM1241.6 214.1h14v14h-14zM1242.9 227.8h14v14h-14zM1244.3 255.5h14v14h-14zM1243.5 228.5h14v14h-14zM1245.7 193.6h14v14h-14zM1247.1 237.1h14v14h-14zM1248.4 278.2h14v14h-14zM1248.2 251.2h14v14h-14zM1249.7 183.6h14v14h-14zM1251.0 266.0h14v14h-14zM1252.2 268.2h14v14h-14zM1253.4 274.3h14v14h-14zM1254.6 196.8h14v14h-14zM1255.7 209.7h14v14h-14zM1255.5 236.7h14v14h-14zM1256.7 275.4h14v14h-14zM1257.7 290.3h14v14h-14zM1256.8 263.3h14v14h-14zM1258.7 238.2h14v14h-14zM1259.6 262.8h14v14h-14zM1259.2 235.8h14v14h-14zM1260.5 266.5h14v14h-14zM1261.5 293.5h14v14h-14zM1261.3 292.5h14v14h-14zM1262.7 319.5h14v14h-14zM1262.2 325.1h14v14h-14zM1263.8 298.1h14v14h-14zM1263.0 272.4h14v14h-14zM1263.7 262.5h14v14h-14zM1264.5 298.9h14v14h-14zM1263.7 271.9h14v14h-14zM1265.3 272.7h14v14h-14zM1266.3 299.7h14v14h-14zM1266.1 275.9h14v14h-14zM1265.1 248.9h14v14h-14zM1266.9 321.5h14v14h-14zM1267.7 279.1h14v14h-14zM1268.5 285.0h14v14h-14zM1269.3 306.3h14v14h-14zM1270.1 250.6h14v14h-14zM1270.9 245.8h14v14h-14zM1271.7 292.5h14v14h-14zM1271.9 319.5h14v14h-14zM1272.5 245.5h14v14h-14zM1272.8 272.5h14v14h-14zM1273.3 316.0h14v14h-14zM1274.1 290.8h14v14h-14zM1272.1 317.8h14v14h-14zM1274.9 301.8h14v14h-14zM1274.7 274.8h14v14h-14zM1275.8 332.6h14v14h-14zM1276.6 337.6h14v14h-14zM1277.4 346.7h14v14h-14zM1278.3 284.4h14v14h-14zM1279.1 343.9h14v14h-14zM1279.9 274.8h14v14h-14zM1278.7 247.8h14v14h-14zM1280.7 306.0h14v14h-14zM1281.5 274.4h14v14h-14zM1281.7 247.4h14v14h-14zM1282.3 337.7h14v14h-14zM1282.9 310.7h14v14h-14zM1283.1 276.7h14v14h-14zM1283.9 359.9h14v14h-14zM1284.7 297.7h14v14h-14zM1285.5 281.7h14v14h-14zM1286.3 287.6h14v14h-14zM1284.8 314.6h14v14h-14zM1287.1 309.0h14v14h-14zM1287.9 295.9h14v14h-14zM1288.7 362.8h14v14h-14zM1289.5 259.2h14v14h-14zM1290.3 340.3h14v14h-14zM1291.1 297.3h14v14h-14zM1291.9 322.3h14v14h-14zM1292.7 274.5h14v14h-14zM1292.4 247.5h14v14h-14zM1293.5 335.8h14v14h-14zM1294.3 263.5h14v14h-14zM1295.1 268.5h14v14h-14zM1294.8 295.5h14v14h-14zM1296.0 244.9h14v14h-14zM1296.9 251.6h14v14h-14zM1296.0 224.6h14v14h-14zM1297.8 232.8h14v14h-14zM1298.7 243.8h14v14h-14zM1299.7 286.6h14v14h-14zM1300.7 248.9h14v14h-14zM1299.0 275.9h14v14h-14zM1301.8 287.0h14v14h-14zM1302.9 253.1h14v14h-14zM1304.0 280.1h14v14h-14zM1304.1 179.6h14v14h-14zM1305.3 212.4h14v14h-14zM1306.5 165.7h14v14h-14zM1307.9 204.4h14v14h-14zM1306.8 231.4h14v14h-14zM1309.3 165.3h14v14h-14zM1310.8 235.5h14v14h-14zM1312.2 216.7h14v14h-14zM1311.3 243.7h14v14h-14zM1313.7 251.1h14v14h-14zM1314.0 224.1h14v14h-14zM1315.2 226.2h14v14h-14zM1315.6 199.2h14v14h-14zM1316.7 196.0h14v14h-14zM1318.2 163.8h14v14h-14zM1319.7 208.0h14v14h-14zM1321.4 181.0h14v14h-14zM1321.3 172.5h14v14h-14zM1322.9 191.2h14v14h-14zM1321.1 164.2h14v14h-14zM1324.4 165.4h14v14h-14zM1326.0 232.0h14v14h-14zM1327.6 221.6h14v14h-14zM1327.1 194.6h14v14h-14zM1329.1 166.1h14v14h-14zM1329.9 193.1h14v14h-14zM1330.6 241.6h14v14h-14zM1332.2 167.6h14v14h-14zM1333.7 192.0h14v14h-14zM1335.2 169.1h14v14h-14zM1335.3 196.1h14v14h-14zM1336.7 221.1h14v14h-14zM1335.0 194.1h14v14h-14zM1338.1 219.3h14v14h-14zM1339.6 171.3h14v14h-14zM1341.0 236.2h14v14h-14zM1342.5 203.2h14v14h-14zM1343.9 173.4h14v14h-14zM1345.3 200.8h14v14h-14zM1344.8 173.8h14v14h-14zM1346.7 222.0h14v14h-14zM1344.9 195.0h14v14h-14zM1348.1 190.9h14v14h-14zM1348.4 217.9h14v14h-14zM1349.4 271.4h14v14h-14zM1350.8 299.7h14v14h-14zM1352.1 192.3h14v14h-14zM1353.4 261.9h14v14h-14zM1352.8 288.9h14v14h-14zM1354.6 296.0h14v14h-14zM1354.6 269.0h14v14h-14zM1355.9 216.2h14v14h-14zM1357.1 298.7h14v14h-14zM1359.1 325.7h14v14h-14zM1358.3 232.8h14v14h-14zM1358.0 259.8h14v14h-14zM1359.5 211.4h14v14h-14zM1359.0 238.4h14v14h-14zM1360.7 276.0h14v14h-14zM1360.7 303.0h14v14h-14zM1361.7 289.5h14v14h-14zM1362.8 265.7h14v14h-14zM1361.4 238.7h14v14h-14zM1363.8 262.0h14v14h-14zM1364.8 239.1h14v14h-14zM1365.7 350.2h14v14h-14zM1366.6 330.6h14v14h-14zM1368.1 303.6h14v14h-14zM1367.5 295.9h14v14h-14zM1368.6 322.9h14v14h-14zM1368.4 275.7h14v14h-14zM1368.4 248.7h14v14h-14zM1369.3 289.8h14v14h-14zM1367.4 262.8h14v14h-14zM1370.1 273.5h14v14h-14zM1370.9 338.4h14v14h-14zM1371.8 273.1h14v14h-14zM1373.1 246.1h14v14h-14zM1372.6 341.4h14v14h-14zM1373.3 269.9h14v14h-14zM1374.1 302.8h14v14h-14zM1373.3 275.8h14v14h-14zM1374.9 276.5h14v14h-14zM1375.9 249.5h14v14h-14zM1375.7 323.2h14v14h-14zM1376.9 296.2h14v14h-14zM1376.4 335.9h14v14h-14zM1377.2 290.2h14v14h-14zM1378.0 310.8h14v14h-14zM1378.7 361.5h14v14h-14zM1379.5 316.8h14v14h-14zM1380.3 268.6h14v14h-14zM1378.8 295.6h14v14h-14zM1381.1 240.1h14v14h-14zM1382.0 293.8h14v14h-14zM1380.8 320.8h14v14h-14zM1382.8 317.0h14v14h-14zM1383.6 276.7h14v14h-14zM1383.7 249.7h14v14h-14zM1384.5 284.8h14v14h-14zM1385.3 228.0h14v14h-14zM1386.1 255.0h14v14h-14zM1386.2 228.0h14v14h-14zM1384.7 255.0h14v14h-14zM1387.1 265.6h14v14h-14zM1388.0 312.8h14v14h-14zM1387.9 339.8h14v14h-14zM1388.9 268.1h14v14h-14zM1387.2 295.1h14v14h-14zM1389.9 317.2h14v14h-14zM1390.8 290.1h14v14h-14zM1391.4 263.1h14v14h-14zM1391.8 256.0h14v14h-14zM1392.8 303.2h14v14h-14zM1393.8 276.2h14v14h-14zM1393.7 244.6h14v14h-14zM1392.0 271.6h14v14h-14zM1394.8 243.3h14v14h-14zM1396.3 270.3h14v14h-14zM1395.8 228.0h14v14h-14zM1396.9 323.5h14v14h-14zM1397.9 266.9h14v14h-14zM1396.5 239.9h14v14h-14zM1399.1 305.8h14v14h-14zM1398.1 278.8h14v14h-14zM1400.2 273.3h14v14h-14zM1401.4 297.7h14v14h-14zM1402.7 294.8h14v14h-14zM1404.0 257.3h14v14h-14zM1405.4 288.5h14v14h-14zM1406.8 269.9h14v14h-14zM1408.3 250.2h14v14h-14zM1407.6 223.2h14v14h-14zM1409.9 226.0h14v14h-14zM1411.7 227.0h14v14h-14zM1413.8 203.2h14v14h-14zM1416.1 226.5h14v14h-14zM1418.4 220.3h14v14h-14zM1420.7 161.5h14v14h-14zM1423.0 191.1h14v14h-14zM1424.6 164.1h14v14h-14zM1425.1 163.6h14v14h-14zM1427.3 137.2h14v14h-14zM1429.5 180.3h14v14h-14zM1431.8 155.6h14v14h-14zM1434.1 164.6h14v14h-14zM1436.4 162.7h14v14h-14zM1434.6 189.7h14v14h-14zM1438.9 167.3h14v14h-14zM1322.0 141.0h14v14h-14z"/>
<rect x="651" y="718" width="15" height="26" fill="#ba0c2f"/>
<rect x="651" y="746" width="15" height="14" fill="#ba0c2f"/>
<g>
<text transform="translate(229.5,83) scale(1,1.03)" text-anchor="end" font-size="61" fill="#262626">2000</text>
<text transform="translate(229.5,279) scale(1,1.03)" text-anchor="end" font-size="61" fill="#262626">1500</text>
<text transform="translate(229.5,475) scale(1,1.03)" text-anchor="end" font-size="61" fill="#262626">1000</text>
<text transform="translate(229.5,671) scale(1,1.03)" text-anchor="end" font-size="61" fill="#262626">500</text>
<text transform="translate(229.5,867) scale(1,1.03)" text-anchor="end" font-size="61" fill="#262626">0</text>
<text transform="translate(245.5,920.5) scale(1,1.03)" text-anchor="middle" font-size="61" fill="#262626">0</text>
<text transform="translate(642.5,920.5) scale(1,1.03)" text-anchor="middle" font-size="61" fill="#262626">2</text>
<text transform="translate(1041,920.5) scale(1,1.03)" text-anchor="middle" font-size="61" fill="#262626">4</text>
<text transform="translate(1439,920.5) scale(1,1.03)" text-anchor="middle" font-size="61" fill="#262626">6</text>
<text transform="translate(579.6,1002) scale(0.969,1)" font-size="68.3" fill="#222222">Displacement/mm</text>
<text transform="translate(74.3,696.3) rotate(-90) scale(0.943,1)" font-size="70" fill="#404040">Contact forces/N</text>
<rect x="342" y="75" width="68" height="15" fill="#0000ff"/>
<text transform="translate(414.7,104.5) scale(0.953,1)" font-size="56.5" fill="#000">0.21</text>
<rect x="342" y="145" width="55" height="14" fill="#fa540a"/>
<text transform="translate(414.7,173.5) scale(0.953,1)" font-size="56.5" fill="#000">0.25</text>
<rect x="342" y="214" width="14.5" height="14" fill="#ffb200"/>
<rect x="369" y="214" width="14.5" height="14" fill="#ffb200"/>
<rect x="396" y="214" width="14.5" height="14" fill="#ffb200"/>
<text transform="translate(414.7,242.5) scale(0.953,1)" font-size="56.5" fill="#000">0.29</text>
<rect x="342" y="283" width="55" height="14" fill="#8e2b8e"/>
<text transform="translate(414.7,311.5) scale(0.953,1)" font-size="56.5" fill="#000">0.33</text>
<rect x="342" y="352" width="68" height="14" fill="#57ab17"/>
<text transform="translate(414.7,380.5) scale(0.953,1)" font-size="56.5" fill="#000">0.37</text>
<rect x="342" y="420" width="55" height="15" fill="#00bff0"/>
<text transform="translate(414.7,449.5) scale(0.953,1)" font-size="56.5" fill="#000">0.41</text>
<rect x="342" y="489" width="14.5" height="15" fill="#ba0c2f"/>
<rect x="369" y="489" width="14.5" height="15" fill="#ba0c2f"/>
<rect x="396" y="489" width="14.5" height="15" fill="#ba0c2f"/>
<text transform="translate(414.7,518.5) scale(0.953,1)" font-size="56.5" fill="#000">0.45</text>
</g>
</svg>
</body></html>
